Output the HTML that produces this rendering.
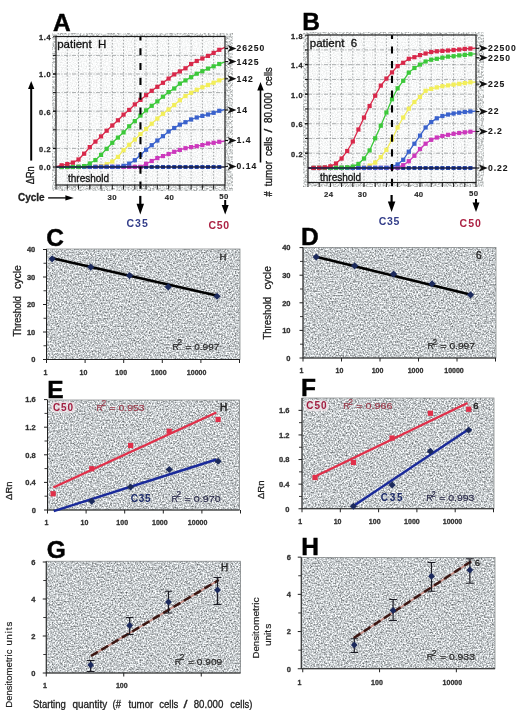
<!DOCTYPE html>
<html><head><meta charset="utf-8"><title>Figure</title>
<style>html,body{margin:0;padding:0;background:#fff;width:520px;height:712px;overflow:hidden;}
svg text{font-family:"Liberation Sans", sans-serif;}</style></head>
<body>
<svg width="520" height="712" viewBox="0 0 520 712" style="position:absolute;left:0;top:0">
<defs>
<filter id="stip" x="0" y="0" width="100%" height="100%" color-interpolation-filters="sRGB">
  <feTurbulence type="fractalNoise" baseFrequency="0.65" numOctaves="2" seed="7" result="n"/>
  <feColorMatrix in="n" type="matrix" values="1.1 0 0 0 0.228  1.1 0 0 0 0.245  1.1 0 0 0 0.255  0 0 0 0 1"/>
  <feGaussianBlur stdDeviation="0.4"/>
</filter>
<filter id="bstip" x="0" y="0" width="100%" height="100%" color-interpolation-filters="sRGB">
  <feTurbulence type="fractalNoise" baseFrequency="0.6" numOctaves="2" seed="11" result="n"/>
  <feColorMatrix in="n" type="matrix" values="0.9 0 0 0 0.41  0.9 0 0 0 0.42  0.9 0 0 0 0.42  0 0 0 0 1"/>
  <feGaussianBlur stdDeviation="0.4"/>
</filter>
<filter id="lstip" x="0" y="0" width="100%" height="100%" color-interpolation-filters="sRGB">
  <feTurbulence type="fractalNoise" baseFrequency="0.8" numOctaves="1" seed="3" result="n"/>
  <feColorMatrix in="n" type="matrix" values="0.28 0 0 0 0.83  0.28 0 0 0 0.835  0.28 0 0 0 0.835  0 0 0 0 1"/>
</filter>
</defs>
<rect width="520" height="712" fill="#fff"/>
<g font-family='"Liberation Sans", sans-serif' opacity="0.999">
<rect x="52" y="33" width="181" height="158" fill="#c6cacc" filter="url(#bstip)"/>
<rect x="56" y="36.5" width="169" height="148.5" fill="#f7f8f8" filter="url(#lstip)"/>
<line x1="67.26" y1="36.5" x2="67.26" y2="185" stroke="#8c9092" stroke-width="0.75" stroke-dasharray="1.6 1.6"/>
<line x1="78.52" y1="36.5" x2="78.52" y2="185" stroke="#8c9092" stroke-width="0.75" stroke-dasharray="1.6 1.6"/>
<line x1="89.78" y1="36.5" x2="89.78" y2="185" stroke="#8c9092" stroke-width="0.75" stroke-dasharray="1.6 1.6"/>
<line x1="101.04" y1="36.5" x2="101.04" y2="185" stroke="#8c9092" stroke-width="0.75" stroke-dasharray="1.6 1.6"/>
<line x1="112.30" y1="36.5" x2="112.30" y2="185" stroke="#8c9092" stroke-width="0.75" stroke-dasharray="1.6 1.6"/>
<line x1="123.56" y1="36.5" x2="123.56" y2="185" stroke="#8c9092" stroke-width="0.75" stroke-dasharray="1.6 1.6"/>
<line x1="134.82" y1="36.5" x2="134.82" y2="185" stroke="#8c9092" stroke-width="0.75" stroke-dasharray="1.6 1.6"/>
<line x1="146.08" y1="36.5" x2="146.08" y2="185" stroke="#8c9092" stroke-width="0.75" stroke-dasharray="1.6 1.6"/>
<line x1="157.34" y1="36.5" x2="157.34" y2="185" stroke="#8c9092" stroke-width="0.75" stroke-dasharray="1.6 1.6"/>
<line x1="168.60" y1="36.5" x2="168.60" y2="185" stroke="#8c9092" stroke-width="0.75" stroke-dasharray="1.6 1.6"/>
<line x1="179.86" y1="36.5" x2="179.86" y2="185" stroke="#8c9092" stroke-width="0.75" stroke-dasharray="1.6 1.6"/>
<line x1="191.12" y1="36.5" x2="191.12" y2="185" stroke="#8c9092" stroke-width="0.75" stroke-dasharray="1.6 1.6"/>
<line x1="202.38" y1="36.5" x2="202.38" y2="185" stroke="#8c9092" stroke-width="0.75" stroke-dasharray="1.6 1.6"/>
<line x1="213.64" y1="36.5" x2="213.64" y2="185" stroke="#8c9092" stroke-width="0.75" stroke-dasharray="1.6 1.6"/>
<line x1="56" y1="148.40" x2="225" y2="148.40" stroke="#909496" stroke-width="0.75" stroke-dasharray="4 1.5 1 1.5"/>
<line x1="53" y1="148.40" x2="56" y2="148.40" stroke="#111" stroke-width="1"/>
<line x1="56" y1="129.80" x2="225" y2="129.80" stroke="#909496" stroke-width="0.75" stroke-dasharray="4 1.5 1 1.5"/>
<line x1="53" y1="129.80" x2="56" y2="129.80" stroke="#111" stroke-width="1"/>
<line x1="56" y1="111.20" x2="225" y2="111.20" stroke="#909496" stroke-width="0.75" stroke-dasharray="4 1.5 1 1.5"/>
<line x1="53" y1="111.20" x2="56" y2="111.20" stroke="#111" stroke-width="1"/>
<line x1="56" y1="92.60" x2="225" y2="92.60" stroke="#909496" stroke-width="0.75" stroke-dasharray="4 1.5 1 1.5"/>
<line x1="53" y1="92.60" x2="56" y2="92.60" stroke="#111" stroke-width="1"/>
<line x1="56" y1="74.00" x2="225" y2="74.00" stroke="#909496" stroke-width="0.75" stroke-dasharray="4 1.5 1 1.5"/>
<line x1="53" y1="74.00" x2="56" y2="74.00" stroke="#111" stroke-width="1"/>
<line x1="56" y1="55.40" x2="225" y2="55.40" stroke="#909496" stroke-width="0.75" stroke-dasharray="4 1.5 1 1.5"/>
<line x1="53" y1="55.40" x2="56" y2="55.40" stroke="#111" stroke-width="1"/>
<rect x="59.63" y="165.00" width="4" height="4" fill="#2a48a8"/>
<rect x="65.26" y="165.00" width="4" height="4" fill="#2a48a8"/>
<rect x="70.89" y="165.00" width="4" height="4" fill="#2a48a8"/>
<rect x="76.52" y="165.00" width="4" height="4" fill="#2a48a8"/>
<rect x="82.15" y="165.00" width="4" height="4" fill="#2a48a8"/>
<rect x="87.78" y="165.00" width="4" height="4" fill="#2a48a8"/>
<rect x="93.41" y="165.00" width="4" height="4" fill="#2a48a8"/>
<rect x="99.04" y="165.00" width="4" height="4" fill="#2a48a8"/>
<rect x="104.67" y="165.00" width="4" height="4" fill="#2a48a8"/>
<rect x="110.30" y="165.00" width="4" height="4" fill="#2a48a8"/>
<rect x="115.93" y="165.00" width="4" height="4" fill="#2a48a8"/>
<rect x="121.56" y="165.00" width="4" height="4" fill="#2a48a8"/>
<rect x="127.19" y="165.00" width="4" height="4" fill="#2a48a8"/>
<rect x="132.82" y="165.00" width="4" height="4" fill="#2a48a8"/>
<rect x="138.45" y="165.00" width="4" height="4" fill="#2a48a8"/>
<rect x="144.08" y="165.00" width="4" height="4" fill="#2a48a8"/>
<rect x="149.71" y="165.00" width="4" height="4" fill="#2a48a8"/>
<rect x="155.34" y="165.00" width="4" height="4" fill="#2a48a8"/>
<rect x="160.97" y="165.00" width="4" height="4" fill="#2a48a8"/>
<rect x="166.60" y="165.00" width="4" height="4" fill="#2a48a8"/>
<rect x="172.23" y="165.00" width="4" height="4" fill="#2a48a8"/>
<rect x="177.86" y="165.00" width="4" height="4" fill="#2a48a8"/>
<rect x="183.49" y="165.00" width="4" height="4" fill="#2a48a8"/>
<rect x="189.12" y="165.00" width="4" height="4" fill="#2a48a8"/>
<rect x="194.75" y="165.00" width="4" height="4" fill="#2a48a8"/>
<rect x="200.38" y="165.00" width="4" height="4" fill="#2a48a8"/>
<rect x="206.01" y="165.00" width="4" height="4" fill="#2a48a8"/>
<rect x="211.64" y="165.00" width="4" height="4" fill="#2a48a8"/>
<rect x="217.27" y="165.00" width="4" height="4" fill="#2a48a8"/>
<polyline points="56.00,167.00 61.63,166.97 67.26,166.94 72.89,166.91 78.52,166.89 84.15,166.86 89.78,166.83 95.41,166.80 101.04,166.00 106.67,164.20 112.30,161.50 117.93,156.90 123.56,150.20 129.19,144.80 134.82,139.60 140.45,134.10 146.08,129.00 151.71,123.70 157.34,118.60 162.97,113.80 168.60,109.50 174.23,105.00 179.86,100.20 185.49,96.00 191.12,92.80 196.75,89.80 202.38,87.30 208.01,85.00 213.64,82.70 219.27,80.40 224.90,78.30" fill="none" stroke="#f2ee5a" stroke-width="1.3"/>
<rect x="59.53" y="164.87" width="4.2" height="4.2" fill="#f2ee5a"/>
<rect x="65.16" y="164.84" width="4.2" height="4.2" fill="#f2ee5a"/>
<rect x="70.79" y="164.81" width="4.2" height="4.2" fill="#f2ee5a"/>
<rect x="76.42" y="164.79" width="4.2" height="4.2" fill="#f2ee5a"/>
<rect x="82.05" y="164.76" width="4.2" height="4.2" fill="#f2ee5a"/>
<rect x="87.68" y="164.73" width="4.2" height="4.2" fill="#f2ee5a"/>
<rect x="93.31" y="164.70" width="4.2" height="4.2" fill="#f2ee5a"/>
<rect x="98.94" y="163.90" width="4.2" height="4.2" fill="#f2ee5a"/>
<rect x="104.57" y="162.10" width="4.2" height="4.2" fill="#f2ee5a"/>
<rect x="110.20" y="159.40" width="4.2" height="4.2" fill="#f2ee5a"/>
<rect x="115.83" y="154.80" width="4.2" height="4.2" fill="#f2ee5a"/>
<rect x="121.46" y="148.10" width="4.2" height="4.2" fill="#f2ee5a"/>
<rect x="127.09" y="142.70" width="4.2" height="4.2" fill="#f2ee5a"/>
<rect x="132.72" y="137.50" width="4.2" height="4.2" fill="#f2ee5a"/>
<rect x="138.35" y="132.00" width="4.2" height="4.2" fill="#f2ee5a"/>
<rect x="143.98" y="126.90" width="4.2" height="4.2" fill="#f2ee5a"/>
<rect x="149.61" y="121.60" width="4.2" height="4.2" fill="#f2ee5a"/>
<rect x="155.24" y="116.50" width="4.2" height="4.2" fill="#f2ee5a"/>
<rect x="160.87" y="111.70" width="4.2" height="4.2" fill="#f2ee5a"/>
<rect x="166.50" y="107.40" width="4.2" height="4.2" fill="#f2ee5a"/>
<rect x="172.13" y="102.90" width="4.2" height="4.2" fill="#f2ee5a"/>
<rect x="177.76" y="98.10" width="4.2" height="4.2" fill="#f2ee5a"/>
<rect x="183.39" y="93.90" width="4.2" height="4.2" fill="#f2ee5a"/>
<rect x="189.02" y="90.70" width="4.2" height="4.2" fill="#f2ee5a"/>
<rect x="194.65" y="87.70" width="4.2" height="4.2" fill="#f2ee5a"/>
<rect x="200.28" y="85.20" width="4.2" height="4.2" fill="#f2ee5a"/>
<rect x="205.91" y="82.90" width="4.2" height="4.2" fill="#f2ee5a"/>
<rect x="211.54" y="80.60" width="4.2" height="4.2" fill="#f2ee5a"/>
<rect x="217.17" y="78.30" width="4.2" height="4.2" fill="#f2ee5a"/>
<polyline points="56.00,167.00 61.63,166.99 67.26,166.97 72.89,166.96 78.52,166.95 84.15,166.93 89.78,166.92 95.41,166.91 101.04,166.89 106.67,166.88 112.30,166.87 117.93,166.85 123.56,166.84 129.19,166.83 134.82,166.81 140.45,166.80 146.08,163.80 151.71,161.00 157.34,158.10 162.97,156.10 168.60,154.00 174.23,151.80 179.86,149.90 185.49,148.20 191.12,147.10 196.75,146.20 202.38,145.10 208.01,143.50 213.64,142.80 219.27,141.80 224.90,141.00" fill="none" stroke="#cc38bc" stroke-width="1.3"/>
<rect x="59.53" y="164.89" width="4.2" height="4.2" fill="#cc38bc"/>
<rect x="65.16" y="164.87" width="4.2" height="4.2" fill="#cc38bc"/>
<rect x="70.79" y="164.86" width="4.2" height="4.2" fill="#cc38bc"/>
<rect x="76.42" y="164.85" width="4.2" height="4.2" fill="#cc38bc"/>
<rect x="82.05" y="164.83" width="4.2" height="4.2" fill="#cc38bc"/>
<rect x="87.68" y="164.82" width="4.2" height="4.2" fill="#cc38bc"/>
<rect x="93.31" y="164.81" width="4.2" height="4.2" fill="#cc38bc"/>
<rect x="98.94" y="164.79" width="4.2" height="4.2" fill="#cc38bc"/>
<rect x="104.57" y="164.78" width="4.2" height="4.2" fill="#cc38bc"/>
<rect x="110.20" y="164.77" width="4.2" height="4.2" fill="#cc38bc"/>
<rect x="115.83" y="164.75" width="4.2" height="4.2" fill="#cc38bc"/>
<rect x="121.46" y="164.74" width="4.2" height="4.2" fill="#cc38bc"/>
<rect x="127.09" y="164.73" width="4.2" height="4.2" fill="#cc38bc"/>
<rect x="132.72" y="164.71" width="4.2" height="4.2" fill="#cc38bc"/>
<rect x="138.35" y="164.70" width="4.2" height="4.2" fill="#cc38bc"/>
<rect x="143.98" y="161.70" width="4.2" height="4.2" fill="#cc38bc"/>
<rect x="149.61" y="158.90" width="4.2" height="4.2" fill="#cc38bc"/>
<rect x="155.24" y="156.00" width="4.2" height="4.2" fill="#cc38bc"/>
<rect x="160.87" y="154.00" width="4.2" height="4.2" fill="#cc38bc"/>
<rect x="166.50" y="151.90" width="4.2" height="4.2" fill="#cc38bc"/>
<rect x="172.13" y="149.70" width="4.2" height="4.2" fill="#cc38bc"/>
<rect x="177.76" y="147.80" width="4.2" height="4.2" fill="#cc38bc"/>
<rect x="183.39" y="146.10" width="4.2" height="4.2" fill="#cc38bc"/>
<rect x="189.02" y="145.00" width="4.2" height="4.2" fill="#cc38bc"/>
<rect x="194.65" y="144.10" width="4.2" height="4.2" fill="#cc38bc"/>
<rect x="200.28" y="143.00" width="4.2" height="4.2" fill="#cc38bc"/>
<rect x="205.91" y="141.40" width="4.2" height="4.2" fill="#cc38bc"/>
<rect x="211.54" y="140.70" width="4.2" height="4.2" fill="#cc38bc"/>
<rect x="217.17" y="139.70" width="4.2" height="4.2" fill="#cc38bc"/>
<polyline points="56.00,167.00 61.63,166.98 67.26,166.96 72.89,166.95 78.52,166.93 84.15,166.91 89.78,166.89 95.41,166.87 101.04,166.85 106.67,166.84 112.30,166.82 117.93,166.80 123.56,165.80 129.19,163.60 134.82,160.20 140.45,155.00 146.08,149.80 151.71,145.20 157.34,140.50 162.97,136.20 168.60,131.50 174.23,128.00 179.86,124.60 185.49,122.20 191.12,119.50 196.75,117.50 202.38,115.90 208.01,114.50 213.64,112.80 219.27,110.80 224.90,109.50" fill="none" stroke="#3a62cc" stroke-width="1.3"/>
<rect x="59.53" y="164.88" width="4.2" height="4.2" fill="#3a62cc"/>
<rect x="65.16" y="164.86" width="4.2" height="4.2" fill="#3a62cc"/>
<rect x="70.79" y="164.85" width="4.2" height="4.2" fill="#3a62cc"/>
<rect x="76.42" y="164.83" width="4.2" height="4.2" fill="#3a62cc"/>
<rect x="82.05" y="164.81" width="4.2" height="4.2" fill="#3a62cc"/>
<rect x="87.68" y="164.79" width="4.2" height="4.2" fill="#3a62cc"/>
<rect x="93.31" y="164.77" width="4.2" height="4.2" fill="#3a62cc"/>
<rect x="98.94" y="164.75" width="4.2" height="4.2" fill="#3a62cc"/>
<rect x="104.57" y="164.74" width="4.2" height="4.2" fill="#3a62cc"/>
<rect x="110.20" y="164.72" width="4.2" height="4.2" fill="#3a62cc"/>
<rect x="115.83" y="164.70" width="4.2" height="4.2" fill="#3a62cc"/>
<rect x="121.46" y="163.70" width="4.2" height="4.2" fill="#3a62cc"/>
<rect x="127.09" y="161.50" width="4.2" height="4.2" fill="#3a62cc"/>
<rect x="132.72" y="158.10" width="4.2" height="4.2" fill="#3a62cc"/>
<rect x="138.35" y="152.90" width="4.2" height="4.2" fill="#3a62cc"/>
<rect x="143.98" y="147.70" width="4.2" height="4.2" fill="#3a62cc"/>
<rect x="149.61" y="143.10" width="4.2" height="4.2" fill="#3a62cc"/>
<rect x="155.24" y="138.40" width="4.2" height="4.2" fill="#3a62cc"/>
<rect x="160.87" y="134.10" width="4.2" height="4.2" fill="#3a62cc"/>
<rect x="166.50" y="129.40" width="4.2" height="4.2" fill="#3a62cc"/>
<rect x="172.13" y="125.90" width="4.2" height="4.2" fill="#3a62cc"/>
<rect x="177.76" y="122.50" width="4.2" height="4.2" fill="#3a62cc"/>
<rect x="183.39" y="120.10" width="4.2" height="4.2" fill="#3a62cc"/>
<rect x="189.02" y="117.40" width="4.2" height="4.2" fill="#3a62cc"/>
<rect x="194.65" y="115.40" width="4.2" height="4.2" fill="#3a62cc"/>
<rect x="200.28" y="113.80" width="4.2" height="4.2" fill="#3a62cc"/>
<rect x="205.91" y="112.40" width="4.2" height="4.2" fill="#3a62cc"/>
<rect x="211.54" y="110.70" width="4.2" height="4.2" fill="#3a62cc"/>
<rect x="217.17" y="108.70" width="4.2" height="4.2" fill="#3a62cc"/>
<polyline points="56.00,167.00 61.63,166.95 67.26,166.90 72.89,166.85 78.52,166.80 84.15,166.10 89.78,163.50 95.41,160.10 101.04,154.90 106.67,148.80 112.30,142.80 117.93,137.60 123.56,132.40 129.19,126.30 134.82,121.10 140.45,115.60 146.08,110.40 151.71,105.80 157.34,101.40 162.97,96.70 168.60,92.10 174.23,88.50 179.86,83.60 185.49,80.40 191.12,77.20 196.75,73.70 202.38,71.20 208.01,68.60 213.64,66.30 219.27,64.00 224.90,61.80" fill="none" stroke="#3cc83a" stroke-width="1.3"/>
<rect x="59.53" y="164.85" width="4.2" height="4.2" fill="#3cc83a"/>
<rect x="65.16" y="164.80" width="4.2" height="4.2" fill="#3cc83a"/>
<rect x="70.79" y="164.75" width="4.2" height="4.2" fill="#3cc83a"/>
<rect x="76.42" y="164.70" width="4.2" height="4.2" fill="#3cc83a"/>
<rect x="82.05" y="164.00" width="4.2" height="4.2" fill="#3cc83a"/>
<rect x="87.68" y="161.40" width="4.2" height="4.2" fill="#3cc83a"/>
<rect x="93.31" y="158.00" width="4.2" height="4.2" fill="#3cc83a"/>
<rect x="98.94" y="152.80" width="4.2" height="4.2" fill="#3cc83a"/>
<rect x="104.57" y="146.70" width="4.2" height="4.2" fill="#3cc83a"/>
<rect x="110.20" y="140.70" width="4.2" height="4.2" fill="#3cc83a"/>
<rect x="115.83" y="135.50" width="4.2" height="4.2" fill="#3cc83a"/>
<rect x="121.46" y="130.30" width="4.2" height="4.2" fill="#3cc83a"/>
<rect x="127.09" y="124.20" width="4.2" height="4.2" fill="#3cc83a"/>
<rect x="132.72" y="119.00" width="4.2" height="4.2" fill="#3cc83a"/>
<rect x="138.35" y="113.50" width="4.2" height="4.2" fill="#3cc83a"/>
<rect x="143.98" y="108.30" width="4.2" height="4.2" fill="#3cc83a"/>
<rect x="149.61" y="103.70" width="4.2" height="4.2" fill="#3cc83a"/>
<rect x="155.24" y="99.30" width="4.2" height="4.2" fill="#3cc83a"/>
<rect x="160.87" y="94.60" width="4.2" height="4.2" fill="#3cc83a"/>
<rect x="166.50" y="90.00" width="4.2" height="4.2" fill="#3cc83a"/>
<rect x="172.13" y="86.40" width="4.2" height="4.2" fill="#3cc83a"/>
<rect x="177.76" y="81.50" width="4.2" height="4.2" fill="#3cc83a"/>
<rect x="183.39" y="78.30" width="4.2" height="4.2" fill="#3cc83a"/>
<rect x="189.02" y="75.10" width="4.2" height="4.2" fill="#3cc83a"/>
<rect x="194.65" y="71.60" width="4.2" height="4.2" fill="#3cc83a"/>
<rect x="200.28" y="69.10" width="4.2" height="4.2" fill="#3cc83a"/>
<rect x="205.91" y="66.50" width="4.2" height="4.2" fill="#3cc83a"/>
<rect x="211.54" y="64.20" width="4.2" height="4.2" fill="#3cc83a"/>
<rect x="217.17" y="61.90" width="4.2" height="4.2" fill="#3cc83a"/>
<polyline points="56.00,166.60 61.63,165.30 67.26,164.10 72.89,162.60 78.52,159.50 84.15,153.70 89.78,147.10 95.41,141.60 101.04,136.40 106.67,130.70 112.30,125.50 117.93,120.30 123.56,114.60 129.19,109.90 134.82,104.40 140.45,99.90 146.08,95.20 151.71,90.80 157.34,86.80 162.97,82.80 168.60,78.60 174.23,74.40 179.86,71.40 185.49,68.30 191.12,64.00 196.75,61.00 202.38,58.50 208.01,55.90 213.64,52.90 219.27,49.80 224.90,47.30" fill="none" stroke="#d8284a" stroke-width="1.3"/>
<rect x="59.53" y="163.20" width="4.2" height="4.2" fill="#d8284a"/>
<rect x="65.16" y="162.00" width="4.2" height="4.2" fill="#d8284a"/>
<rect x="70.79" y="160.50" width="4.2" height="4.2" fill="#d8284a"/>
<rect x="76.42" y="157.40" width="4.2" height="4.2" fill="#d8284a"/>
<rect x="82.05" y="151.60" width="4.2" height="4.2" fill="#d8284a"/>
<rect x="87.68" y="145.00" width="4.2" height="4.2" fill="#d8284a"/>
<rect x="93.31" y="139.50" width="4.2" height="4.2" fill="#d8284a"/>
<rect x="98.94" y="134.30" width="4.2" height="4.2" fill="#d8284a"/>
<rect x="104.57" y="128.60" width="4.2" height="4.2" fill="#d8284a"/>
<rect x="110.20" y="123.40" width="4.2" height="4.2" fill="#d8284a"/>
<rect x="115.83" y="118.20" width="4.2" height="4.2" fill="#d8284a"/>
<rect x="121.46" y="112.50" width="4.2" height="4.2" fill="#d8284a"/>
<rect x="127.09" y="107.80" width="4.2" height="4.2" fill="#d8284a"/>
<rect x="132.72" y="102.30" width="4.2" height="4.2" fill="#d8284a"/>
<rect x="138.35" y="97.80" width="4.2" height="4.2" fill="#d8284a"/>
<rect x="143.98" y="93.10" width="4.2" height="4.2" fill="#d8284a"/>
<rect x="149.61" y="88.70" width="4.2" height="4.2" fill="#d8284a"/>
<rect x="155.24" y="84.70" width="4.2" height="4.2" fill="#d8284a"/>
<rect x="160.87" y="80.70" width="4.2" height="4.2" fill="#d8284a"/>
<rect x="166.50" y="76.50" width="4.2" height="4.2" fill="#d8284a"/>
<rect x="172.13" y="72.30" width="4.2" height="4.2" fill="#d8284a"/>
<rect x="177.76" y="69.30" width="4.2" height="4.2" fill="#d8284a"/>
<rect x="183.39" y="66.20" width="4.2" height="4.2" fill="#d8284a"/>
<rect x="189.02" y="61.90" width="4.2" height="4.2" fill="#d8284a"/>
<rect x="194.65" y="58.90" width="4.2" height="4.2" fill="#d8284a"/>
<rect x="200.28" y="56.40" width="4.2" height="4.2" fill="#d8284a"/>
<rect x="205.91" y="53.80" width="4.2" height="4.2" fill="#d8284a"/>
<rect x="211.54" y="50.80" width="4.2" height="4.2" fill="#d8284a"/>
<rect x="217.17" y="47.70" width="4.2" height="4.2" fill="#d8284a"/>
<line x1="56" y1="167" x2="225" y2="167" stroke="#141a40" stroke-width="1.7"/>
<line x1="140.45" y1="36.5" x2="140.45" y2="192" stroke="#000" stroke-width="2.1" stroke-dasharray="7.1 7.73" stroke-dashoffset="3.2"/>
<rect x="56" y="36.5" width="169" height="148.5" fill="none" stroke="#1e1e1e" stroke-width="1.2"/>
<line x1="56.00" y1="185" x2="56.00" y2="189.5" stroke="#1a1a1a" stroke-width="1"/>
<line x1="67.26" y1="185" x2="67.26" y2="189.5" stroke="#1a1a1a" stroke-width="1"/>
<line x1="78.52" y1="185" x2="78.52" y2="189.5" stroke="#1a1a1a" stroke-width="1"/>
<line x1="89.78" y1="185" x2="89.78" y2="189.5" stroke="#1a1a1a" stroke-width="1"/>
<line x1="101.04" y1="185" x2="101.04" y2="189.5" stroke="#1a1a1a" stroke-width="1"/>
<line x1="112.30" y1="185" x2="112.30" y2="189.5" stroke="#1a1a1a" stroke-width="1"/>
<line x1="123.56" y1="185" x2="123.56" y2="189.5" stroke="#1a1a1a" stroke-width="1"/>
<line x1="134.82" y1="185" x2="134.82" y2="189.5" stroke="#1a1a1a" stroke-width="1"/>
<line x1="146.08" y1="185" x2="146.08" y2="189.5" stroke="#1a1a1a" stroke-width="1"/>
<line x1="157.34" y1="185" x2="157.34" y2="189.5" stroke="#1a1a1a" stroke-width="1"/>
<line x1="168.60" y1="185" x2="168.60" y2="189.5" stroke="#1a1a1a" stroke-width="1"/>
<line x1="179.86" y1="185" x2="179.86" y2="189.5" stroke="#1a1a1a" stroke-width="1"/>
<line x1="191.12" y1="185" x2="191.12" y2="189.5" stroke="#1a1a1a" stroke-width="1"/>
<line x1="202.38" y1="185" x2="202.38" y2="189.5" stroke="#1a1a1a" stroke-width="1"/>
<line x1="213.64" y1="185" x2="213.64" y2="189.5" stroke="#1a1a1a" stroke-width="1"/>
<line x1="224.90" y1="185" x2="224.90" y2="189.5" stroke="#1a1a1a" stroke-width="1"/>
<line x1="53" y1="36.80" x2="56" y2="36.80" stroke="#111" stroke-width="1"/>
<text x="51.40" y="40.20" font-size="7.4" font-weight="bold" text-anchor="end" fill="#2a2a2a" stroke="#2a2a2a" stroke-width="0.3" letter-spacing="0.7">1.4</text>
<line x1="53" y1="74.00" x2="56" y2="74.00" stroke="#111" stroke-width="1"/>
<text x="51.40" y="77.40" font-size="7.4" font-weight="bold" text-anchor="end" fill="#2a2a2a" stroke="#2a2a2a" stroke-width="0.3" letter-spacing="0.7">1.0</text>
<line x1="53" y1="111.20" x2="56" y2="111.20" stroke="#111" stroke-width="1"/>
<text x="51.40" y="114.60" font-size="7.4" font-weight="bold" text-anchor="end" fill="#2a2a2a" stroke="#2a2a2a" stroke-width="0.3" letter-spacing="0.7">0.6</text>
<line x1="53" y1="148.40" x2="56" y2="148.40" stroke="#111" stroke-width="1"/>
<text x="51.40" y="151.80" font-size="7.4" font-weight="bold" text-anchor="end" fill="#2a2a2a" stroke="#2a2a2a" stroke-width="0.3" letter-spacing="0.7">0.2</text>
<line x1="53" y1="167.00" x2="56" y2="167.00" stroke="#111" stroke-width="1"/>
<text x="51.40" y="170.40" font-size="7.4" font-weight="bold" text-anchor="end" fill="#2a2a2a" stroke="#2a2a2a" stroke-width="0.3" letter-spacing="0.7">0.0</text>
<text x="112.30" y="199.50" font-size="7.8" font-weight="bold" text-anchor="middle" fill="#2a2a2a" stroke="#2a2a2a" stroke-width="0.15" letter-spacing="0.4">30</text>
<text x="169.50" y="199.50" font-size="7.8" font-weight="bold" text-anchor="middle" fill="#2a2a2a" stroke="#2a2a2a" stroke-width="0.15" letter-spacing="0.4">40</text>
<text x="223.89" y="199.00" font-size="7.8" font-weight="bold" text-anchor="middle" fill="#2a2a2a" stroke="#2a2a2a" stroke-width="0.15" letter-spacing="0.4">50</text>
<text x="57.20" y="48.00" font-size="11.5" font-weight="normal" text-anchor="start" fill="#111" stroke="#111" stroke-width="0.3" >patient&#160;&#160;H</text>
<text x="68.00" y="182.00" font-size="10" font-weight="normal" text-anchor="start" fill="#111" stroke="#111" stroke-width="0.3" >threshold</text>
<text x="53.00" y="30.80" font-size="24.5" font-weight="bold" fill="#000" stroke="#000" stroke-width="0.45">A</text>
<line x1="225.00" y1="48.50" x2="228.00" y2="48.50" stroke="#111" stroke-width="1.1"/>
<path d="M236.50,48.50 L227.50,52.00 L230.00,48.50 L227.50,45.00 z" fill="#111"/>
<text x="236.60" y="51.40" font-size="8.6" font-weight="bold" text-anchor="start" fill="#1a1a1a" stroke="#1a1a1a" stroke-width="0.1" letter-spacing="0.95">26250</text>
<line x1="225.00" y1="61.60" x2="228.00" y2="61.60" stroke="#111" stroke-width="1.1"/>
<path d="M236.50,61.60 L227.50,65.10 L230.00,61.60 L227.50,58.10 z" fill="#111"/>
<text x="236.60" y="64.50" font-size="8.6" font-weight="bold" text-anchor="start" fill="#1a1a1a" stroke="#1a1a1a" stroke-width="0.1" letter-spacing="0.95">1425</text>
<line x1="225.00" y1="78.80" x2="228.00" y2="78.80" stroke="#111" stroke-width="1.1"/>
<path d="M236.50,78.80 L227.50,82.30 L230.00,78.80 L227.50,75.30 z" fill="#111"/>
<text x="236.60" y="81.70" font-size="8.6" font-weight="bold" text-anchor="start" fill="#1a1a1a" stroke="#1a1a1a" stroke-width="0.1" letter-spacing="0.95">142</text>
<line x1="225.00" y1="110.00" x2="228.00" y2="110.00" stroke="#111" stroke-width="1.1"/>
<path d="M236.50,110.00 L227.50,113.50 L230.00,110.00 L227.50,106.50 z" fill="#111"/>
<text x="236.60" y="112.90" font-size="8.6" font-weight="bold" text-anchor="start" fill="#1a1a1a" stroke="#1a1a1a" stroke-width="0.1" letter-spacing="0.95">14</text>
<line x1="225.00" y1="140.50" x2="228.00" y2="140.50" stroke="#111" stroke-width="1.1"/>
<path d="M236.50,140.50 L227.50,144.00 L230.00,140.50 L227.50,137.00 z" fill="#111"/>
<text x="236.60" y="143.40" font-size="8.6" font-weight="bold" text-anchor="start" fill="#1a1a1a" stroke="#1a1a1a" stroke-width="0.1" letter-spacing="0.95">1.4</text>
<line x1="225.00" y1="166.40" x2="228.00" y2="166.40" stroke="#111" stroke-width="1.1"/>
<path d="M236.50,166.40 L227.50,169.90 L230.00,166.40 L227.50,162.90 z" fill="#111"/>
<text x="236.60" y="169.30" font-size="8.6" font-weight="bold" text-anchor="start" fill="#1a1a1a" stroke="#1a1a1a" stroke-width="0.1" letter-spacing="0.95">0.14</text>
<line x1="260.50" y1="162.50" x2="260.50" y2="89.90" stroke="#000" stroke-width="1.6"/>
<path d="M260.50,82.00 L263.75,90.40 L260.50,90.40 L257.25,90.40 z" fill="#000"/>
<text transform="translate(272.20,196.40) rotate(-90)" x="0" y="0" font-size="10" font-weight="normal" fill="#111" stroke="#111" stroke-width="0.3" textLength="5.10" lengthAdjust="spacingAndGlyphs">#</text>
<text transform="translate(272.20,186.30) rotate(-90)" x="0" y="0" font-size="10" font-weight="normal" fill="#111" stroke="#111" stroke-width="0.3" textLength="25.30" lengthAdjust="spacingAndGlyphs">tumor</text>
<text transform="translate(272.20,156.10) rotate(-90)" x="0" y="0" font-size="10" font-weight="normal" fill="#111" stroke="#111" stroke-width="0.3" textLength="19.30" lengthAdjust="spacingAndGlyphs">cells</text>
<text transform="translate(272.20,132.40) rotate(-90)" x="0" y="0" font-size="10" font-weight="normal" fill="#111" stroke="#111" stroke-width="0.3" textLength="3.80" lengthAdjust="spacingAndGlyphs">/</text>
<text transform="translate(272.20,122.90) rotate(-90)" x="0" y="0" font-size="10" font-weight="normal" fill="#111" stroke="#111" stroke-width="0.3" textLength="30.30" lengthAdjust="spacingAndGlyphs">80.000</text>
<text transform="translate(272.20,85.80) rotate(-90)" x="0" y="0" font-size="10" font-weight="normal" fill="#111" stroke="#111" stroke-width="0.3" textLength="18.40" lengthAdjust="spacingAndGlyphs">cells</text>
<line x1="31.20" y1="160.60" x2="31.20" y2="88.50" stroke="#000" stroke-width="2"/>
<path d="M31.20,81.00 L34.35,89.00 L31.20,89.00 L28.05,89.00 z" fill="#000"/>
<text transform="translate(34.20,184.20) rotate(-90)" x="0" y="0" font-size="10" font-weight="normal" fill="#111" stroke="#111" stroke-width="0.3" textLength="17.90" lengthAdjust="spacingAndGlyphs">&#916;Rn</text>
<text x="18.00" y="200.70" font-size="10" font-weight="bold" text-anchor="start" fill="#222" stroke="#222" stroke-width="0.3" >Cycle</text>
<line x1="48.10" y1="197.90" x2="65.90" y2="197.90" stroke="#000" stroke-width="1.3"/>
<path d="M73.80,197.90 L65.40,200.60 L65.40,197.90 L65.40,195.20 z" fill="#000"/>
<line x1="140.30" y1="195.90" x2="140.30" y2="204.30" stroke="#000" stroke-width="2.2"/>
<path d="M140.30,214.60 L136.55,203.80 L140.30,203.80 L144.05,203.80 z" fill="#000"/>
<line x1="225.20" y1="200.00" x2="225.20" y2="205.60" stroke="#000" stroke-width="2"/>
<path d="M225.20,214.60 L221.70,205.10 L225.20,205.10 L228.70,205.10 z" fill="#000"/>
<text x="126.40" y="227.30" font-size="10.5" font-weight="bold" fill="#343e8a" stroke="#343e8a" stroke-width="0" textLength="21.40" lengthAdjust="spacing">C35</text>
<text x="208.40" y="228.90" font-size="10.5" font-weight="bold" fill="#ac2244" stroke="#ac2244" stroke-width="0" textLength="20.60" lengthAdjust="spacing">C50</text>
<rect x="303.5" y="32" width="180.5" height="155" fill="#c6cacc" filter="url(#bstip)"/>
<rect x="308" y="35" width="168" height="147.5" fill="#f7f8f8" filter="url(#lstip)"/>
<line x1="319.20" y1="35" x2="319.20" y2="182.5" stroke="#8c9092" stroke-width="0.75" stroke-dasharray="1.6 1.6"/>
<line x1="330.40" y1="35" x2="330.40" y2="182.5" stroke="#8c9092" stroke-width="0.75" stroke-dasharray="1.6 1.6"/>
<line x1="341.60" y1="35" x2="341.60" y2="182.5" stroke="#8c9092" stroke-width="0.75" stroke-dasharray="1.6 1.6"/>
<line x1="352.80" y1="35" x2="352.80" y2="182.5" stroke="#8c9092" stroke-width="0.75" stroke-dasharray="1.6 1.6"/>
<line x1="364.00" y1="35" x2="364.00" y2="182.5" stroke="#8c9092" stroke-width="0.75" stroke-dasharray="1.6 1.6"/>
<line x1="375.20" y1="35" x2="375.20" y2="182.5" stroke="#8c9092" stroke-width="0.75" stroke-dasharray="1.6 1.6"/>
<line x1="386.40" y1="35" x2="386.40" y2="182.5" stroke="#8c9092" stroke-width="0.75" stroke-dasharray="1.6 1.6"/>
<line x1="397.60" y1="35" x2="397.60" y2="182.5" stroke="#8c9092" stroke-width="0.75" stroke-dasharray="1.6 1.6"/>
<line x1="408.80" y1="35" x2="408.80" y2="182.5" stroke="#8c9092" stroke-width="0.75" stroke-dasharray="1.6 1.6"/>
<line x1="420.00" y1="35" x2="420.00" y2="182.5" stroke="#8c9092" stroke-width="0.75" stroke-dasharray="1.6 1.6"/>
<line x1="431.20" y1="35" x2="431.20" y2="182.5" stroke="#8c9092" stroke-width="0.75" stroke-dasharray="1.6 1.6"/>
<line x1="442.40" y1="35" x2="442.40" y2="182.5" stroke="#8c9092" stroke-width="0.75" stroke-dasharray="1.6 1.6"/>
<line x1="453.60" y1="35" x2="453.60" y2="182.5" stroke="#8c9092" stroke-width="0.75" stroke-dasharray="1.6 1.6"/>
<line x1="464.80" y1="35" x2="464.80" y2="182.5" stroke="#8c9092" stroke-width="0.75" stroke-dasharray="1.6 1.6"/>
<line x1="308" y1="153.24" x2="476" y2="153.24" stroke="#909496" stroke-width="0.75" stroke-dasharray="4 1.5 1 1.5"/>
<line x1="305" y1="153.24" x2="308" y2="153.24" stroke="#111" stroke-width="1"/>
<line x1="308" y1="138.48" x2="476" y2="138.48" stroke="#909496" stroke-width="0.75" stroke-dasharray="4 1.5 1 1.5"/>
<line x1="305" y1="138.48" x2="308" y2="138.48" stroke="#111" stroke-width="1"/>
<line x1="308" y1="123.72" x2="476" y2="123.72" stroke="#909496" stroke-width="0.75" stroke-dasharray="4 1.5 1 1.5"/>
<line x1="305" y1="123.72" x2="308" y2="123.72" stroke="#111" stroke-width="1"/>
<line x1="308" y1="108.96" x2="476" y2="108.96" stroke="#909496" stroke-width="0.75" stroke-dasharray="4 1.5 1 1.5"/>
<line x1="305" y1="108.96" x2="308" y2="108.96" stroke="#111" stroke-width="1"/>
<line x1="308" y1="94.20" x2="476" y2="94.20" stroke="#909496" stroke-width="0.75" stroke-dasharray="4 1.5 1 1.5"/>
<line x1="305" y1="94.20" x2="308" y2="94.20" stroke="#111" stroke-width="1"/>
<line x1="308" y1="79.44" x2="476" y2="79.44" stroke="#909496" stroke-width="0.75" stroke-dasharray="4 1.5 1 1.5"/>
<line x1="305" y1="79.44" x2="308" y2="79.44" stroke="#111" stroke-width="1"/>
<line x1="308" y1="64.68" x2="476" y2="64.68" stroke="#909496" stroke-width="0.75" stroke-dasharray="4 1.5 1 1.5"/>
<line x1="305" y1="64.68" x2="308" y2="64.68" stroke="#111" stroke-width="1"/>
<line x1="308" y1="49.92" x2="476" y2="49.92" stroke="#909496" stroke-width="0.75" stroke-dasharray="4 1.5 1 1.5"/>
<line x1="305" y1="49.92" x2="308" y2="49.92" stroke="#111" stroke-width="1"/>
<rect x="311.60" y="166.00" width="4" height="4" fill="#2a48a8"/>
<rect x="317.20" y="166.00" width="4" height="4" fill="#2a48a8"/>
<rect x="322.80" y="166.00" width="4" height="4" fill="#2a48a8"/>
<rect x="328.40" y="166.00" width="4" height="4" fill="#2a48a8"/>
<rect x="334.00" y="166.00" width="4" height="4" fill="#2a48a8"/>
<rect x="339.60" y="166.00" width="4" height="4" fill="#2a48a8"/>
<rect x="345.20" y="166.00" width="4" height="4" fill="#2a48a8"/>
<rect x="350.80" y="166.00" width="4" height="4" fill="#2a48a8"/>
<rect x="356.40" y="166.00" width="4" height="4" fill="#2a48a8"/>
<rect x="362.00" y="166.00" width="4" height="4" fill="#2a48a8"/>
<rect x="367.60" y="166.00" width="4" height="4" fill="#2a48a8"/>
<rect x="373.20" y="166.00" width="4" height="4" fill="#2a48a8"/>
<rect x="378.80" y="166.00" width="4" height="4" fill="#2a48a8"/>
<rect x="384.40" y="166.00" width="4" height="4" fill="#2a48a8"/>
<rect x="390.00" y="166.00" width="4" height="4" fill="#2a48a8"/>
<rect x="395.60" y="166.00" width="4" height="4" fill="#2a48a8"/>
<rect x="401.20" y="166.00" width="4" height="4" fill="#2a48a8"/>
<rect x="406.80" y="166.00" width="4" height="4" fill="#2a48a8"/>
<rect x="412.40" y="166.00" width="4" height="4" fill="#2a48a8"/>
<rect x="418.00" y="166.00" width="4" height="4" fill="#2a48a8"/>
<rect x="423.60" y="166.00" width="4" height="4" fill="#2a48a8"/>
<rect x="429.20" y="166.00" width="4" height="4" fill="#2a48a8"/>
<rect x="434.80" y="166.00" width="4" height="4" fill="#2a48a8"/>
<rect x="440.40" y="166.00" width="4" height="4" fill="#2a48a8"/>
<rect x="446.00" y="166.00" width="4" height="4" fill="#2a48a8"/>
<rect x="451.60" y="166.00" width="4" height="4" fill="#2a48a8"/>
<rect x="457.20" y="166.00" width="4" height="4" fill="#2a48a8"/>
<rect x="462.80" y="166.00" width="4" height="4" fill="#2a48a8"/>
<rect x="468.40" y="166.00" width="4" height="4" fill="#2a48a8"/>
<polyline points="308.00,168.00 313.60,167.98 319.20,167.96 324.80,167.94 330.40,167.92 336.00,167.90 341.60,167.88 347.20,167.86 352.80,167.84 358.40,167.82 364.00,167.80 369.60,165.50 375.20,162.50 380.80,157.10 386.40,149.90 392.00,139.50 397.60,127.50 403.20,117.50 408.80,108.70 414.40,102.00 420.00,96.90 425.60,90.80 431.20,88.90 436.80,87.40 442.40,86.20 448.00,85.40 453.60,84.60 459.20,83.80 464.80,83.10 470.40,82.30 476.00,82.00" fill="none" stroke="#f2ee5a" stroke-width="1.3"/>
<rect x="311.50" y="165.88" width="4.2" height="4.2" fill="#f2ee5a"/>
<rect x="317.10" y="165.86" width="4.2" height="4.2" fill="#f2ee5a"/>
<rect x="322.70" y="165.84" width="4.2" height="4.2" fill="#f2ee5a"/>
<rect x="328.30" y="165.82" width="4.2" height="4.2" fill="#f2ee5a"/>
<rect x="333.90" y="165.80" width="4.2" height="4.2" fill="#f2ee5a"/>
<rect x="339.50" y="165.78" width="4.2" height="4.2" fill="#f2ee5a"/>
<rect x="345.10" y="165.76" width="4.2" height="4.2" fill="#f2ee5a"/>
<rect x="350.70" y="165.74" width="4.2" height="4.2" fill="#f2ee5a"/>
<rect x="356.30" y="165.72" width="4.2" height="4.2" fill="#f2ee5a"/>
<rect x="361.90" y="165.70" width="4.2" height="4.2" fill="#f2ee5a"/>
<rect x="367.50" y="163.40" width="4.2" height="4.2" fill="#f2ee5a"/>
<rect x="373.10" y="160.40" width="4.2" height="4.2" fill="#f2ee5a"/>
<rect x="378.70" y="155.00" width="4.2" height="4.2" fill="#f2ee5a"/>
<rect x="384.30" y="147.80" width="4.2" height="4.2" fill="#f2ee5a"/>
<rect x="389.90" y="137.40" width="4.2" height="4.2" fill="#f2ee5a"/>
<rect x="395.50" y="125.40" width="4.2" height="4.2" fill="#f2ee5a"/>
<rect x="401.10" y="115.40" width="4.2" height="4.2" fill="#f2ee5a"/>
<rect x="406.70" y="106.60" width="4.2" height="4.2" fill="#f2ee5a"/>
<rect x="412.30" y="99.90" width="4.2" height="4.2" fill="#f2ee5a"/>
<rect x="417.90" y="94.80" width="4.2" height="4.2" fill="#f2ee5a"/>
<rect x="423.50" y="88.70" width="4.2" height="4.2" fill="#f2ee5a"/>
<rect x="429.10" y="86.80" width="4.2" height="4.2" fill="#f2ee5a"/>
<rect x="434.70" y="85.30" width="4.2" height="4.2" fill="#f2ee5a"/>
<rect x="440.30" y="84.10" width="4.2" height="4.2" fill="#f2ee5a"/>
<rect x="445.90" y="83.30" width="4.2" height="4.2" fill="#f2ee5a"/>
<rect x="451.50" y="82.50" width="4.2" height="4.2" fill="#f2ee5a"/>
<rect x="457.10" y="81.70" width="4.2" height="4.2" fill="#f2ee5a"/>
<rect x="462.70" y="81.00" width="4.2" height="4.2" fill="#f2ee5a"/>
<rect x="468.30" y="80.20" width="4.2" height="4.2" fill="#f2ee5a"/>
<polyline points="308.00,168.00 313.60,167.99 319.20,167.99 324.80,167.98 330.40,167.97 336.00,167.97 341.60,167.96 347.20,167.95 352.80,167.95 358.40,167.94 364.00,167.93 369.60,167.93 375.20,167.92 380.80,167.91 386.40,167.91 392.00,167.90 397.60,167.40 403.20,165.20 408.80,161.20 414.40,155.80 420.00,149.00 425.60,143.70 431.20,139.80 436.80,137.50 442.40,136.00 448.00,134.80 453.60,133.80 459.20,133.00 464.80,132.30 470.40,131.70 476.00,131.30" fill="none" stroke="#cc38bc" stroke-width="1.3"/>
<rect x="311.50" y="165.89" width="4.2" height="4.2" fill="#cc38bc"/>
<rect x="317.10" y="165.89" width="4.2" height="4.2" fill="#cc38bc"/>
<rect x="322.70" y="165.88" width="4.2" height="4.2" fill="#cc38bc"/>
<rect x="328.30" y="165.87" width="4.2" height="4.2" fill="#cc38bc"/>
<rect x="333.90" y="165.87" width="4.2" height="4.2" fill="#cc38bc"/>
<rect x="339.50" y="165.86" width="4.2" height="4.2" fill="#cc38bc"/>
<rect x="345.10" y="165.85" width="4.2" height="4.2" fill="#cc38bc"/>
<rect x="350.70" y="165.85" width="4.2" height="4.2" fill="#cc38bc"/>
<rect x="356.30" y="165.84" width="4.2" height="4.2" fill="#cc38bc"/>
<rect x="361.90" y="165.83" width="4.2" height="4.2" fill="#cc38bc"/>
<rect x="367.50" y="165.83" width="4.2" height="4.2" fill="#cc38bc"/>
<rect x="373.10" y="165.82" width="4.2" height="4.2" fill="#cc38bc"/>
<rect x="378.70" y="165.81" width="4.2" height="4.2" fill="#cc38bc"/>
<rect x="384.30" y="165.81" width="4.2" height="4.2" fill="#cc38bc"/>
<rect x="389.90" y="165.80" width="4.2" height="4.2" fill="#cc38bc"/>
<rect x="395.50" y="165.30" width="4.2" height="4.2" fill="#cc38bc"/>
<rect x="401.10" y="163.10" width="4.2" height="4.2" fill="#cc38bc"/>
<rect x="406.70" y="159.10" width="4.2" height="4.2" fill="#cc38bc"/>
<rect x="412.30" y="153.70" width="4.2" height="4.2" fill="#cc38bc"/>
<rect x="417.90" y="146.90" width="4.2" height="4.2" fill="#cc38bc"/>
<rect x="423.50" y="141.60" width="4.2" height="4.2" fill="#cc38bc"/>
<rect x="429.10" y="137.70" width="4.2" height="4.2" fill="#cc38bc"/>
<rect x="434.70" y="135.40" width="4.2" height="4.2" fill="#cc38bc"/>
<rect x="440.30" y="133.90" width="4.2" height="4.2" fill="#cc38bc"/>
<rect x="445.90" y="132.70" width="4.2" height="4.2" fill="#cc38bc"/>
<rect x="451.50" y="131.70" width="4.2" height="4.2" fill="#cc38bc"/>
<rect x="457.10" y="130.90" width="4.2" height="4.2" fill="#cc38bc"/>
<rect x="462.70" y="130.20" width="4.2" height="4.2" fill="#cc38bc"/>
<rect x="468.30" y="129.60" width="4.2" height="4.2" fill="#cc38bc"/>
<polyline points="308.00,168.00 313.60,167.99 319.20,167.97 324.80,167.96 330.40,167.94 336.00,167.93 341.60,167.91 347.20,167.90 352.80,167.89 358.40,167.87 364.00,167.86 369.60,167.84 375.20,167.83 380.80,167.81 386.40,167.80 392.00,166.80 397.60,164.40 403.20,159.80 408.80,151.70 414.40,143.70 420.00,135.60 425.60,127.50 431.20,122.10 436.80,118.30 442.40,116.00 448.00,114.50 453.60,113.50 459.20,112.70 464.80,112.00 470.40,111.50 476.00,111.20" fill="none" stroke="#3a62cc" stroke-width="1.3"/>
<rect x="311.50" y="165.89" width="4.2" height="4.2" fill="#3a62cc"/>
<rect x="317.10" y="165.87" width="4.2" height="4.2" fill="#3a62cc"/>
<rect x="322.70" y="165.86" width="4.2" height="4.2" fill="#3a62cc"/>
<rect x="328.30" y="165.84" width="4.2" height="4.2" fill="#3a62cc"/>
<rect x="333.90" y="165.83" width="4.2" height="4.2" fill="#3a62cc"/>
<rect x="339.50" y="165.81" width="4.2" height="4.2" fill="#3a62cc"/>
<rect x="345.10" y="165.80" width="4.2" height="4.2" fill="#3a62cc"/>
<rect x="350.70" y="165.79" width="4.2" height="4.2" fill="#3a62cc"/>
<rect x="356.30" y="165.77" width="4.2" height="4.2" fill="#3a62cc"/>
<rect x="361.90" y="165.76" width="4.2" height="4.2" fill="#3a62cc"/>
<rect x="367.50" y="165.74" width="4.2" height="4.2" fill="#3a62cc"/>
<rect x="373.10" y="165.73" width="4.2" height="4.2" fill="#3a62cc"/>
<rect x="378.70" y="165.71" width="4.2" height="4.2" fill="#3a62cc"/>
<rect x="384.30" y="165.70" width="4.2" height="4.2" fill="#3a62cc"/>
<rect x="389.90" y="164.70" width="4.2" height="4.2" fill="#3a62cc"/>
<rect x="395.50" y="162.30" width="4.2" height="4.2" fill="#3a62cc"/>
<rect x="401.10" y="157.70" width="4.2" height="4.2" fill="#3a62cc"/>
<rect x="406.70" y="149.60" width="4.2" height="4.2" fill="#3a62cc"/>
<rect x="412.30" y="141.60" width="4.2" height="4.2" fill="#3a62cc"/>
<rect x="417.90" y="133.50" width="4.2" height="4.2" fill="#3a62cc"/>
<rect x="423.50" y="125.40" width="4.2" height="4.2" fill="#3a62cc"/>
<rect x="429.10" y="120.00" width="4.2" height="4.2" fill="#3a62cc"/>
<rect x="434.70" y="116.20" width="4.2" height="4.2" fill="#3a62cc"/>
<rect x="440.30" y="113.90" width="4.2" height="4.2" fill="#3a62cc"/>
<rect x="445.90" y="112.40" width="4.2" height="4.2" fill="#3a62cc"/>
<rect x="451.50" y="111.40" width="4.2" height="4.2" fill="#3a62cc"/>
<rect x="457.10" y="110.60" width="4.2" height="4.2" fill="#3a62cc"/>
<rect x="462.70" y="109.90" width="4.2" height="4.2" fill="#3a62cc"/>
<rect x="468.30" y="109.40" width="4.2" height="4.2" fill="#3a62cc"/>
<polyline points="308.00,168.00 313.60,167.93 319.20,167.87 324.80,167.80 330.40,167.73 336.00,167.67 341.60,167.60 347.20,167.30 352.80,166.50 358.40,163.90 364.00,158.50 369.60,150.40 375.20,138.30 380.80,125.70 386.40,112.50 392.00,99.30 397.60,88.30 403.20,80.80 408.80,72.60 414.40,68.00 420.00,64.60 425.60,61.50 431.20,59.70 436.80,58.80 442.40,57.70 448.00,56.60 453.60,56.20 459.20,55.40 464.80,54.90 470.40,54.20 476.00,53.80" fill="none" stroke="#3cc83a" stroke-width="1.3"/>
<rect x="311.50" y="165.83" width="4.2" height="4.2" fill="#3cc83a"/>
<rect x="317.10" y="165.77" width="4.2" height="4.2" fill="#3cc83a"/>
<rect x="322.70" y="165.70" width="4.2" height="4.2" fill="#3cc83a"/>
<rect x="328.30" y="165.63" width="4.2" height="4.2" fill="#3cc83a"/>
<rect x="333.90" y="165.57" width="4.2" height="4.2" fill="#3cc83a"/>
<rect x="339.50" y="165.50" width="4.2" height="4.2" fill="#3cc83a"/>
<rect x="345.10" y="165.20" width="4.2" height="4.2" fill="#3cc83a"/>
<rect x="350.70" y="164.40" width="4.2" height="4.2" fill="#3cc83a"/>
<rect x="356.30" y="161.80" width="4.2" height="4.2" fill="#3cc83a"/>
<rect x="361.90" y="156.40" width="4.2" height="4.2" fill="#3cc83a"/>
<rect x="367.50" y="148.30" width="4.2" height="4.2" fill="#3cc83a"/>
<rect x="373.10" y="136.20" width="4.2" height="4.2" fill="#3cc83a"/>
<rect x="378.70" y="123.60" width="4.2" height="4.2" fill="#3cc83a"/>
<rect x="384.30" y="110.40" width="4.2" height="4.2" fill="#3cc83a"/>
<rect x="389.90" y="97.20" width="4.2" height="4.2" fill="#3cc83a"/>
<rect x="395.50" y="86.20" width="4.2" height="4.2" fill="#3cc83a"/>
<rect x="401.10" y="78.70" width="4.2" height="4.2" fill="#3cc83a"/>
<rect x="406.70" y="70.50" width="4.2" height="4.2" fill="#3cc83a"/>
<rect x="412.30" y="65.90" width="4.2" height="4.2" fill="#3cc83a"/>
<rect x="417.90" y="62.50" width="4.2" height="4.2" fill="#3cc83a"/>
<rect x="423.50" y="59.40" width="4.2" height="4.2" fill="#3cc83a"/>
<rect x="429.10" y="57.60" width="4.2" height="4.2" fill="#3cc83a"/>
<rect x="434.70" y="56.70" width="4.2" height="4.2" fill="#3cc83a"/>
<rect x="440.30" y="55.60" width="4.2" height="4.2" fill="#3cc83a"/>
<rect x="445.90" y="54.50" width="4.2" height="4.2" fill="#3cc83a"/>
<rect x="451.50" y="54.10" width="4.2" height="4.2" fill="#3cc83a"/>
<rect x="457.10" y="53.30" width="4.2" height="4.2" fill="#3cc83a"/>
<rect x="462.70" y="52.80" width="4.2" height="4.2" fill="#3cc83a"/>
<rect x="468.30" y="52.10" width="4.2" height="4.2" fill="#3cc83a"/>
<polyline points="308.00,168.00 313.60,167.90 319.20,167.80 324.80,167.40 330.40,166.30 336.00,163.50 341.60,158.50 347.20,151.00 352.80,141.50 358.40,129.50 364.00,117.60 369.60,106.00 375.20,95.70 380.80,85.60 386.40,78.60 392.00,72.40 397.60,66.10 403.20,62.80 408.80,58.80 414.40,57.20 420.00,55.10 425.60,53.50 431.20,52.00 436.80,51.30 442.40,50.90 448.00,50.50 453.60,50.00 459.20,49.50 464.80,48.90 470.40,48.50 476.00,48.20" fill="none" stroke="#d8284a" stroke-width="1.3"/>
<rect x="311.50" y="165.80" width="4.2" height="4.2" fill="#d8284a"/>
<rect x="317.10" y="165.70" width="4.2" height="4.2" fill="#d8284a"/>
<rect x="322.70" y="165.30" width="4.2" height="4.2" fill="#d8284a"/>
<rect x="328.30" y="164.20" width="4.2" height="4.2" fill="#d8284a"/>
<rect x="333.90" y="161.40" width="4.2" height="4.2" fill="#d8284a"/>
<rect x="339.50" y="156.40" width="4.2" height="4.2" fill="#d8284a"/>
<rect x="345.10" y="148.90" width="4.2" height="4.2" fill="#d8284a"/>
<rect x="350.70" y="139.40" width="4.2" height="4.2" fill="#d8284a"/>
<rect x="356.30" y="127.40" width="4.2" height="4.2" fill="#d8284a"/>
<rect x="361.90" y="115.50" width="4.2" height="4.2" fill="#d8284a"/>
<rect x="367.50" y="103.90" width="4.2" height="4.2" fill="#d8284a"/>
<rect x="373.10" y="93.60" width="4.2" height="4.2" fill="#d8284a"/>
<rect x="378.70" y="83.50" width="4.2" height="4.2" fill="#d8284a"/>
<rect x="384.30" y="76.50" width="4.2" height="4.2" fill="#d8284a"/>
<rect x="389.90" y="70.30" width="4.2" height="4.2" fill="#d8284a"/>
<rect x="395.50" y="64.00" width="4.2" height="4.2" fill="#d8284a"/>
<rect x="401.10" y="60.70" width="4.2" height="4.2" fill="#d8284a"/>
<rect x="406.70" y="56.70" width="4.2" height="4.2" fill="#d8284a"/>
<rect x="412.30" y="55.10" width="4.2" height="4.2" fill="#d8284a"/>
<rect x="417.90" y="53.00" width="4.2" height="4.2" fill="#d8284a"/>
<rect x="423.50" y="51.40" width="4.2" height="4.2" fill="#d8284a"/>
<rect x="429.10" y="49.90" width="4.2" height="4.2" fill="#d8284a"/>
<rect x="434.70" y="49.20" width="4.2" height="4.2" fill="#d8284a"/>
<rect x="440.30" y="48.80" width="4.2" height="4.2" fill="#d8284a"/>
<rect x="445.90" y="48.40" width="4.2" height="4.2" fill="#d8284a"/>
<rect x="451.50" y="47.90" width="4.2" height="4.2" fill="#d8284a"/>
<rect x="457.10" y="47.40" width="4.2" height="4.2" fill="#d8284a"/>
<rect x="462.70" y="46.80" width="4.2" height="4.2" fill="#d8284a"/>
<rect x="468.30" y="46.40" width="4.2" height="4.2" fill="#d8284a"/>
<line x1="308" y1="168" x2="476" y2="168" stroke="#141a40" stroke-width="1.7"/>
<line x1="392.00" y1="35" x2="392.00" y2="188" stroke="#000" stroke-width="2.1" stroke-dasharray="7.2 7.5" stroke-dashoffset="3.3"/>
<rect x="308" y="35" width="168" height="147.5" fill="none" stroke="#1e1e1e" stroke-width="1.2"/>
<line x1="308.00" y1="182.5" x2="308.00" y2="187.0" stroke="#1a1a1a" stroke-width="1"/>
<line x1="319.20" y1="182.5" x2="319.20" y2="187.0" stroke="#1a1a1a" stroke-width="1"/>
<line x1="330.40" y1="182.5" x2="330.40" y2="187.0" stroke="#1a1a1a" stroke-width="1"/>
<line x1="341.60" y1="182.5" x2="341.60" y2="187.0" stroke="#1a1a1a" stroke-width="1"/>
<line x1="352.80" y1="182.5" x2="352.80" y2="187.0" stroke="#1a1a1a" stroke-width="1"/>
<line x1="364.00" y1="182.5" x2="364.00" y2="187.0" stroke="#1a1a1a" stroke-width="1"/>
<line x1="375.20" y1="182.5" x2="375.20" y2="187.0" stroke="#1a1a1a" stroke-width="1"/>
<line x1="386.40" y1="182.5" x2="386.40" y2="187.0" stroke="#1a1a1a" stroke-width="1"/>
<line x1="397.60" y1="182.5" x2="397.60" y2="187.0" stroke="#1a1a1a" stroke-width="1"/>
<line x1="408.80" y1="182.5" x2="408.80" y2="187.0" stroke="#1a1a1a" stroke-width="1"/>
<line x1="420.00" y1="182.5" x2="420.00" y2="187.0" stroke="#1a1a1a" stroke-width="1"/>
<line x1="431.20" y1="182.5" x2="431.20" y2="187.0" stroke="#1a1a1a" stroke-width="1"/>
<line x1="442.40" y1="182.5" x2="442.40" y2="187.0" stroke="#1a1a1a" stroke-width="1"/>
<line x1="453.60" y1="182.5" x2="453.60" y2="187.0" stroke="#1a1a1a" stroke-width="1"/>
<line x1="464.80" y1="182.5" x2="464.80" y2="187.0" stroke="#1a1a1a" stroke-width="1"/>
<line x1="476.00" y1="182.5" x2="476.00" y2="187.0" stroke="#1a1a1a" stroke-width="1"/>
<line x1="305" y1="35.16" x2="308" y2="35.16" stroke="#111" stroke-width="1"/>
<text x="303.40" y="38.56" font-size="7.4" font-weight="bold" text-anchor="end" fill="#2a2a2a" stroke="#2a2a2a" stroke-width="0.3" letter-spacing="0.7">1.8</text>
<line x1="305" y1="64.68" x2="308" y2="64.68" stroke="#111" stroke-width="1"/>
<text x="303.40" y="68.08" font-size="7.4" font-weight="bold" text-anchor="end" fill="#2a2a2a" stroke="#2a2a2a" stroke-width="0.3" letter-spacing="0.7">1.4</text>
<line x1="305" y1="94.20" x2="308" y2="94.20" stroke="#111" stroke-width="1"/>
<text x="303.40" y="97.60" font-size="7.4" font-weight="bold" text-anchor="end" fill="#2a2a2a" stroke="#2a2a2a" stroke-width="0.3" letter-spacing="0.7">1.0</text>
<line x1="305" y1="123.72" x2="308" y2="123.72" stroke="#111" stroke-width="1"/>
<text x="303.40" y="127.12" font-size="7.4" font-weight="bold" text-anchor="end" fill="#2a2a2a" stroke="#2a2a2a" stroke-width="0.3" letter-spacing="0.7">0.6</text>
<line x1="305" y1="153.24" x2="308" y2="153.24" stroke="#111" stroke-width="1"/>
<text x="303.40" y="156.64" font-size="7.4" font-weight="bold" text-anchor="end" fill="#2a2a2a" stroke="#2a2a2a" stroke-width="0.3" letter-spacing="0.7">0.2</text>
<text x="328.83" y="196.80" font-size="7.8" font-weight="bold" text-anchor="middle" fill="#2a2a2a" stroke="#2a2a2a" stroke-width="0.15" letter-spacing="0.4">24</text>
<text x="362.43" y="196.80" font-size="7.8" font-weight="bold" text-anchor="middle" fill="#2a2a2a" stroke="#2a2a2a" stroke-width="0.15" letter-spacing="0.4">30</text>
<text x="418.88" y="196.80" font-size="7.8" font-weight="bold" text-anchor="middle" fill="#2a2a2a" stroke="#2a2a2a" stroke-width="0.15" letter-spacing="0.4">40</text>
<text x="473.76" y="196.30" font-size="7.8" font-weight="bold" text-anchor="middle" fill="#2a2a2a" stroke="#2a2a2a" stroke-width="0.15" letter-spacing="0.4">50</text>
<text x="309.80" y="46.50" font-size="11.5" font-weight="normal" text-anchor="start" fill="#111" stroke="#111" stroke-width="0.3" >patient&#160;&#160;6</text>
<text x="320.00" y="180.50" font-size="10" font-weight="normal" text-anchor="start" fill="#111" stroke="#111" stroke-width="0.3" >threshold</text>
<text x="302.20" y="29.50" font-size="24.5" font-weight="bold" fill="#000" stroke="#000" stroke-width="0.45">B</text>
<line x1="476.00" y1="48.30" x2="479.30" y2="48.30" stroke="#111" stroke-width="1.1"/>
<path d="M487.80,48.30 L478.80,51.80 L481.30,48.30 L478.80,44.80 z" fill="#111"/>
<text x="488.00" y="51.20" font-size="8.6" font-weight="bold" text-anchor="start" fill="#1a1a1a" stroke="#1a1a1a" stroke-width="0.1" letter-spacing="0.95">22500</text>
<line x1="476.00" y1="57.70" x2="479.30" y2="57.70" stroke="#111" stroke-width="1.1"/>
<path d="M487.80,57.70 L478.80,61.20 L481.30,57.70 L478.80,54.20 z" fill="#111"/>
<text x="488.00" y="60.60" font-size="8.6" font-weight="bold" text-anchor="start" fill="#1a1a1a" stroke="#1a1a1a" stroke-width="0.1" letter-spacing="0.95">2250</text>
<line x1="476.00" y1="84.10" x2="479.30" y2="84.10" stroke="#111" stroke-width="1.1"/>
<path d="M487.80,84.10 L478.80,87.60 L481.30,84.10 L478.80,80.60 z" fill="#111"/>
<text x="488.00" y="87.00" font-size="8.6" font-weight="bold" text-anchor="start" fill="#1a1a1a" stroke="#1a1a1a" stroke-width="0.1" letter-spacing="0.95">225</text>
<line x1="476.00" y1="111.50" x2="479.30" y2="111.50" stroke="#111" stroke-width="1.1"/>
<path d="M487.80,111.50 L478.80,115.00 L481.30,111.50 L478.80,108.00 z" fill="#111"/>
<text x="488.00" y="114.40" font-size="8.6" font-weight="bold" text-anchor="start" fill="#1a1a1a" stroke="#1a1a1a" stroke-width="0.1" letter-spacing="0.95">22</text>
<line x1="476.00" y1="131.50" x2="479.30" y2="131.50" stroke="#111" stroke-width="1.1"/>
<path d="M487.80,131.50 L478.80,135.00 L481.30,131.50 L478.80,128.00 z" fill="#111"/>
<text x="488.00" y="134.40" font-size="8.6" font-weight="bold" text-anchor="start" fill="#1a1a1a" stroke="#1a1a1a" stroke-width="0.1" letter-spacing="0.95">2.2</text>
<line x1="476.00" y1="168.00" x2="479.30" y2="168.00" stroke="#111" stroke-width="1.1"/>
<path d="M487.80,168.00 L478.80,171.50 L481.30,168.00 L478.80,164.50 z" fill="#111"/>
<text x="488.00" y="170.90" font-size="8.6" font-weight="bold" text-anchor="start" fill="#1a1a1a" stroke="#1a1a1a" stroke-width="0.1" letter-spacing="0.95">0.22</text>
<line x1="391.60" y1="195.00" x2="391.60" y2="202.00" stroke="#000" stroke-width="2.2"/>
<path d="M391.60,212.00 L387.85,201.50 L391.60,201.50 L395.35,201.50 z" fill="#000"/>
<line x1="476.00" y1="199.00" x2="476.00" y2="203.00" stroke="#000" stroke-width="2"/>
<path d="M476.00,212.00 L472.50,202.50 L476.00,202.50 L479.50,202.50 z" fill="#000"/>
<text x="378.70" y="225.30" font-size="10.5" font-weight="bold" fill="#343e8a" stroke="#343e8a" stroke-width="0" textLength="20.70" lengthAdjust="spacing">C35</text>
<text x="459.50" y="226.90" font-size="10.5" font-weight="bold" fill="#ac2244" stroke="#ac2244" stroke-width="0" textLength="21.40" lengthAdjust="spacing">C50</text>
<rect x="46.5" y="249" width="193.5" height="110.5" fill="#c6cacc" filter="url(#stip)"/>
<rect x="46.5" y="249" width="193.5" height="110.5" fill="none" stroke="#8a8e90" stroke-width="0.8"/>
<line x1="46.5" y1="249" x2="46.5" y2="359.5" stroke="#222" stroke-width="1"/>
<line x1="46.5" y1="359.5" x2="240" y2="359.5" stroke="#222" stroke-width="1"/>
<line x1="43.0" y1="249.50" x2="46.5" y2="249.50" stroke="#222" stroke-width="1"/>
<text x="35.30" y="252.30" font-size="7.5" font-weight="bold" text-anchor="end" fill="#333" stroke="#333" stroke-width="0.3" >40</text>
<line x1="43.0" y1="277.00" x2="46.5" y2="277.00" stroke="#222" stroke-width="1"/>
<text x="35.30" y="279.80" font-size="7.5" font-weight="bold" text-anchor="end" fill="#333" stroke="#333" stroke-width="0.3" >30</text>
<line x1="43.0" y1="304.50" x2="46.5" y2="304.50" stroke="#222" stroke-width="1"/>
<text x="35.30" y="307.30" font-size="7.5" font-weight="bold" text-anchor="end" fill="#333" stroke="#333" stroke-width="0.3" >20</text>
<line x1="43.0" y1="332.00" x2="46.5" y2="332.00" stroke="#222" stroke-width="1"/>
<text x="35.30" y="334.80" font-size="7.5" font-weight="bold" text-anchor="end" fill="#333" stroke="#333" stroke-width="0.3" >10</text>
<line x1="43.0" y1="359.50" x2="46.5" y2="359.50" stroke="#222" stroke-width="1"/>
<text x="35.30" y="362.30" font-size="7.5" font-weight="bold" text-anchor="end" fill="#333" stroke="#333" stroke-width="0.3" >0</text>
<line x1="43.5" y1="263.25" x2="46.5" y2="263.25" stroke="#222" stroke-width="0.9"/>
<line x1="43.5" y1="290.75" x2="46.5" y2="290.75" stroke="#222" stroke-width="0.9"/>
<line x1="43.5" y1="318.25" x2="46.5" y2="318.25" stroke="#222" stroke-width="0.9"/>
<line x1="43.5" y1="345.75" x2="46.5" y2="345.75" stroke="#222" stroke-width="0.9"/>
<line x1="46.50" y1="359.5" x2="46.50" y2="363.0" stroke="#222" stroke-width="1"/>
<text x="45.50" y="374.50" font-size="7" font-weight="bold" text-anchor="middle" fill="#333" stroke="#333" stroke-width="0.3" >1</text>
<line x1="85.10" y1="359.5" x2="85.10" y2="363.0" stroke="#222" stroke-width="1"/>
<text x="83.40" y="374.50" font-size="7" font-weight="bold" text-anchor="middle" fill="#333" stroke="#333" stroke-width="0.3" >10</text>
<line x1="123.70" y1="359.5" x2="123.70" y2="363.0" stroke="#222" stroke-width="1"/>
<text x="121.20" y="374.50" font-size="7" font-weight="bold" text-anchor="middle" fill="#333" stroke="#333" stroke-width="0.3" >100</text>
<line x1="162.30" y1="359.5" x2="162.30" y2="363.0" stroke="#222" stroke-width="1"/>
<text x="158.80" y="374.50" font-size="7" font-weight="bold" text-anchor="middle" fill="#333" stroke="#333" stroke-width="0.3" >1000</text>
<line x1="200.90" y1="359.5" x2="200.90" y2="363.0" stroke="#222" stroke-width="1"/>
<text x="196.60" y="374.50" font-size="7" font-weight="bold" text-anchor="middle" fill="#333" stroke="#333" stroke-width="0.3" >10000</text>
<line x1="239.50" y1="359.5" x2="239.50" y2="363.0" stroke="#222" stroke-width="1"/>
<line x1="51.5" y1="258" x2="217.5" y2="295.7" stroke="#000" stroke-width="2.6"/>
<path d="M52.14,255.25 L55.74,258.85 L52.14,262.45 L48.54,258.85 z" fill="#1c2a5c"/>
<path d="M90.74,263.50 L94.34,267.10 L90.74,270.70 L87.14,267.10 z" fill="#1c2a5c"/>
<path d="M129.58,272.02 L133.18,275.62 L129.58,279.23 L125.98,275.62 z" fill="#1c2a5c"/>
<path d="M168.24,283.30 L171.84,286.90 L168.24,290.50 L164.64,286.90 z" fill="#1c2a5c"/>
<path d="M217.08,292.65 L220.68,296.25 L217.08,299.85 L213.48,296.25 z" fill="#1c2a5c"/>
<text x="223.00" y="259.80" font-size="9.5" font-weight="normal" text-anchor="middle" fill="#222" stroke="#222" stroke-width="0.3" >H</text>
<text x="172.50" y="349.50" font-size="8.8" fill="#222" stroke="#222" stroke-width="0.15">R</text>
<text x="177.50" y="345.20" font-size="8.36" fill="#222" stroke="#222" stroke-width="0.15">2</text>
<text x="185.60" y="349.50" font-size="8.8" fill="#222" stroke="#222" stroke-width="0.15" textLength="33.70" lengthAdjust="spacingAndGlyphs">=&#160;0.997</text>
<text x="46.30" y="246.30" font-size="24.5" font-weight="bold" fill="#000" stroke="#000" stroke-width="0.45">C</text>
<text transform="translate(20.80,336.40) rotate(-90)" x="0" y="0" font-size="10" font-weight="normal" fill="#222" stroke="#222" stroke-width="0.3" textLength="40.20" lengthAdjust="spacingAndGlyphs">Threshold</text>
<text transform="translate(20.80,289.00) rotate(-90)" x="0" y="0" font-size="10" font-weight="normal" fill="#222" stroke="#222" stroke-width="0.3" textLength="23.80" lengthAdjust="spacingAndGlyphs">cycle</text>
<rect x="303" y="247.5" width="193" height="110.5" fill="#c6cacc" filter="url(#stip)"/>
<rect x="303" y="247.5" width="193" height="110.5" fill="none" stroke="#8a8e90" stroke-width="0.8"/>
<line x1="303" y1="247.5" x2="303" y2="358" stroke="#222" stroke-width="1"/>
<line x1="303" y1="358" x2="496" y2="358" stroke="#222" stroke-width="1"/>
<line x1="299.5" y1="247.60" x2="303" y2="247.60" stroke="#222" stroke-width="1"/>
<text x="290.50" y="250.40" font-size="7.5" font-weight="bold" text-anchor="end" fill="#333" stroke="#333" stroke-width="0.3" >40</text>
<line x1="299.5" y1="275.20" x2="303" y2="275.20" stroke="#222" stroke-width="1"/>
<text x="290.50" y="278.00" font-size="7.5" font-weight="bold" text-anchor="end" fill="#333" stroke="#333" stroke-width="0.3" >30</text>
<line x1="299.5" y1="302.80" x2="303" y2="302.80" stroke="#222" stroke-width="1"/>
<text x="290.50" y="305.60" font-size="7.5" font-weight="bold" text-anchor="end" fill="#333" stroke="#333" stroke-width="0.3" >20</text>
<line x1="299.5" y1="330.40" x2="303" y2="330.40" stroke="#222" stroke-width="1"/>
<text x="290.50" y="333.20" font-size="7.5" font-weight="bold" text-anchor="end" fill="#333" stroke="#333" stroke-width="0.3" >10</text>
<line x1="299.5" y1="358.00" x2="303" y2="358.00" stroke="#222" stroke-width="1"/>
<text x="290.50" y="360.80" font-size="7.5" font-weight="bold" text-anchor="end" fill="#333" stroke="#333" stroke-width="0.3" >0</text>
<line x1="300" y1="261.40" x2="303" y2="261.40" stroke="#222" stroke-width="0.9"/>
<line x1="300" y1="289.00" x2="303" y2="289.00" stroke="#222" stroke-width="0.9"/>
<line x1="300" y1="316.60" x2="303" y2="316.60" stroke="#222" stroke-width="0.9"/>
<line x1="300" y1="344.20" x2="303" y2="344.20" stroke="#222" stroke-width="0.9"/>
<line x1="303.00" y1="358" x2="303.00" y2="361.5" stroke="#222" stroke-width="1"/>
<text x="301.50" y="373.00" font-size="7" font-weight="bold" text-anchor="middle" fill="#333" stroke="#333" stroke-width="0.3" >1</text>
<line x1="341.50" y1="358" x2="341.50" y2="361.5" stroke="#222" stroke-width="1"/>
<text x="339.50" y="373.00" font-size="7" font-weight="bold" text-anchor="middle" fill="#333" stroke="#333" stroke-width="0.3" >10</text>
<line x1="380.00" y1="358" x2="380.00" y2="361.5" stroke="#222" stroke-width="1"/>
<text x="377.50" y="373.00" font-size="7" font-weight="bold" text-anchor="middle" fill="#333" stroke="#333" stroke-width="0.3" >100</text>
<line x1="418.50" y1="358" x2="418.50" y2="361.5" stroke="#222" stroke-width="1"/>
<text x="415.50" y="373.00" font-size="7" font-weight="bold" text-anchor="middle" fill="#333" stroke="#333" stroke-width="0.3" >1000</text>
<line x1="457.00" y1="358" x2="457.00" y2="361.5" stroke="#222" stroke-width="1"/>
<text x="454.00" y="373.00" font-size="7" font-weight="bold" text-anchor="middle" fill="#333" stroke="#333" stroke-width="0.3" >10000</text>
<line x1="495.50" y1="358" x2="495.50" y2="361.5" stroke="#222" stroke-width="1"/>
<line x1="316" y1="256.8" x2="470" y2="294.5" stroke="#000" stroke-width="2.6"/>
<path d="M316.18,253.38 L319.78,256.98 L316.18,260.58 L312.58,256.98 z" fill="#1c2a5c"/>
<path d="M354.68,262.22 L358.28,265.82 L354.68,269.42 L351.08,265.82 z" fill="#1c2a5c"/>
<path d="M393.56,270.50 L397.16,274.10 L393.56,277.70 L389.96,274.10 z" fill="#1c2a5c"/>
<path d="M432.06,280.16 L435.66,283.76 L432.06,287.36 L428.46,283.76 z" fill="#1c2a5c"/>
<path d="M470.56,291.20 L474.16,294.80 L470.56,298.40 L466.96,294.80 z" fill="#1c2a5c"/>
<text x="478.80" y="258.50" font-size="10" font-weight="normal" text-anchor="middle" fill="#222" stroke="#222" stroke-width="0.3" >6</text>
<text x="427.50" y="349.10" font-size="8.8" fill="#222" stroke="#222" stroke-width="0.15">R</text>
<text x="432.50" y="344.80" font-size="8.36" fill="#222" stroke="#222" stroke-width="0.15">2</text>
<text x="440.60" y="349.10" font-size="8.8" fill="#222" stroke="#222" stroke-width="0.15" textLength="34.40" lengthAdjust="spacingAndGlyphs">=&#160;0.997</text>
<text x="301.10" y="245.20" font-size="24.5" font-weight="bold" fill="#000" stroke="#000" stroke-width="0.45">D</text>
<text transform="translate(271.30,339.60) rotate(-90)" x="0" y="0" font-size="10" font-weight="normal" fill="#222" stroke="#222" stroke-width="0.3" textLength="42.70" lengthAdjust="spacingAndGlyphs">Threshold</text>
<text transform="translate(271.30,289.60) rotate(-90)" x="0" y="0" font-size="10" font-weight="normal" fill="#222" stroke="#222" stroke-width="0.3" textLength="23.50" lengthAdjust="spacingAndGlyphs">cycle</text>
<rect x="47.5" y="400" width="192.0" height="110" fill="#c6cacc" filter="url(#stip)"/>
<rect x="47.5" y="400" width="192.0" height="110" fill="none" stroke="#8a8e90" stroke-width="0.8"/>
<line x1="47.5" y1="400" x2="47.5" y2="510" stroke="#222" stroke-width="1"/>
<line x1="47.5" y1="510" x2="239.5" y2="510" stroke="#222" stroke-width="1"/>
<line x1="44.0" y1="399.60" x2="47.5" y2="399.60" stroke="#222" stroke-width="1"/>
<text x="35.80" y="402.40" font-size="7.5" font-weight="bold" text-anchor="end" fill="#333" stroke="#333" stroke-width="0.3" >1.6</text>
<line x1="44.0" y1="427.20" x2="47.5" y2="427.20" stroke="#222" stroke-width="1"/>
<text x="35.80" y="430.00" font-size="7.5" font-weight="bold" text-anchor="end" fill="#333" stroke="#333" stroke-width="0.3" >1.2</text>
<line x1="44.0" y1="454.80" x2="47.5" y2="454.80" stroke="#222" stroke-width="1"/>
<text x="35.80" y="457.60" font-size="7.5" font-weight="bold" text-anchor="end" fill="#333" stroke="#333" stroke-width="0.3" >0.8</text>
<line x1="44.0" y1="482.40" x2="47.5" y2="482.40" stroke="#222" stroke-width="1"/>
<text x="35.80" y="485.20" font-size="7.5" font-weight="bold" text-anchor="end" fill="#333" stroke="#333" stroke-width="0.3" >0.4</text>
<line x1="44.0" y1="510.00" x2="47.5" y2="510.00" stroke="#222" stroke-width="1"/>
<text x="35.80" y="512.80" font-size="7.5" font-weight="bold" text-anchor="end" fill="#333" stroke="#333" stroke-width="0.3" >0</text>
<line x1="44.5" y1="413.40" x2="47.5" y2="413.40" stroke="#222" stroke-width="0.9"/>
<line x1="44.5" y1="441.00" x2="47.5" y2="441.00" stroke="#222" stroke-width="0.9"/>
<line x1="44.5" y1="468.60" x2="47.5" y2="468.60" stroke="#222" stroke-width="0.9"/>
<line x1="44.5" y1="496.20" x2="47.5" y2="496.20" stroke="#222" stroke-width="0.9"/>
<line x1="47.50" y1="510" x2="47.50" y2="513.5" stroke="#222" stroke-width="1"/>
<text x="46.50" y="524.50" font-size="7" font-weight="bold" text-anchor="middle" fill="#333" stroke="#333" stroke-width="0.3" >1</text>
<line x1="86.10" y1="510" x2="86.10" y2="513.5" stroke="#222" stroke-width="1"/>
<text x="84.40" y="524.50" font-size="7" font-weight="bold" text-anchor="middle" fill="#333" stroke="#333" stroke-width="0.3" >10</text>
<line x1="124.70" y1="510" x2="124.70" y2="513.5" stroke="#222" stroke-width="1"/>
<text x="122.20" y="524.50" font-size="7" font-weight="bold" text-anchor="middle" fill="#333" stroke="#333" stroke-width="0.3" >100</text>
<line x1="163.30" y1="510" x2="163.30" y2="513.5" stroke="#222" stroke-width="1"/>
<text x="159.80" y="524.50" font-size="7" font-weight="bold" text-anchor="middle" fill="#333" stroke="#333" stroke-width="0.3" >1000</text>
<line x1="201.90" y1="510" x2="201.90" y2="513.5" stroke="#222" stroke-width="1"/>
<text x="197.60" y="524.50" font-size="7" font-weight="bold" text-anchor="middle" fill="#333" stroke="#333" stroke-width="0.3" >10000</text>
<line x1="240.50" y1="510" x2="240.50" y2="513.5" stroke="#222" stroke-width="1"/>
<line x1="53.3" y1="487.5" x2="216.3" y2="412.5" stroke="#e0304a" stroke-width="2.4"/>
<line x1="53.8" y1="511.2" x2="216.3" y2="459.5" stroke="#1a2a9a" stroke-width="2.4"/>
<rect x="50.54" y="491.15" width="5.20" height="5.20" fill="#e0304a"/>
<rect x="89.14" y="466.15" width="5.20" height="5.20" fill="#e0304a"/>
<rect x="127.98" y="442.90" width="5.20" height="5.20" fill="#e0304a"/>
<rect x="166.64" y="428.65" width="5.20" height="5.20" fill="#e0304a"/>
<rect x="215.48" y="416.90" width="5.20" height="5.20" fill="#e0304a"/>
<path d="M91.74,497.65 L95.34,501.25 L91.74,504.85 L88.14,501.25 z" fill="#1c2a5c"/>
<path d="M130.58,483.40 L134.18,487.00 L130.58,490.60 L126.98,487.00 z" fill="#1c2a5c"/>
<path d="M169.24,465.90 L172.84,469.50 L169.24,473.10 L165.64,469.50 z" fill="#1c2a5c"/>
<path d="M218.08,457.65 L221.68,461.25 L218.08,464.85 L214.48,461.25 z" fill="#1c2a5c"/>
<rect x="51.5" y="401.5" width="23.5" height="11" rx="4" fill="#f0e6ea" opacity="0.75"/>
<text x="52.90" y="410.50" font-size="10" font-weight="bold" fill="#a01e40" stroke="#a01e40" stroke-width="0" textLength="20.20" lengthAdjust="spacing">C50</text>
<text x="96.40" y="410.50" font-size="8.8" fill="#9a3a4a" stroke="#9a3a4a" stroke-width="0.15">R</text>
<text x="101.40" y="406.20" font-size="8.36" fill="#9a3a4a" stroke="#9a3a4a" stroke-width="0.15">2</text>
<text x="109.50" y="410.50" font-size="8.8" fill="#9a3a4a" stroke="#9a3a4a" stroke-width="0.15" textLength="35.20" lengthAdjust="spacingAndGlyphs">=&#160;0.953</text>
<text x="223.70" y="411.30" font-size="10" font-weight="normal" text-anchor="middle" fill="#222" stroke="#222" stroke-width="0.5" >H</text>
<text x="130.70" y="501.50" font-size="10" font-weight="bold" fill="#1c2a6a" stroke="#1c2a6a" stroke-width="0" textLength="19.80" lengthAdjust="spacing">C35</text>
<text x="171.50" y="501.50" font-size="8.8" fill="#2a2a4a" stroke="#2a2a4a" stroke-width="0.15">R</text>
<text x="176.50" y="497.20" font-size="8.36" fill="#2a2a4a" stroke="#2a2a4a" stroke-width="0.15">2</text>
<text x="184.60" y="501.50" font-size="8.8" fill="#2a2a4a" stroke="#2a2a4a" stroke-width="0.15" textLength="36.10" lengthAdjust="spacingAndGlyphs">=&#160;0.970</text>
<text x="47.20" y="397.70" font-size="24.5" font-weight="bold" fill="#000" stroke="#000" stroke-width="0.45">E</text>
<text transform="translate(12.00,499.90) rotate(-90)" x="0" y="0" font-size="9.5" font-weight="normal" fill="#222" stroke="#222" stroke-width="0.3" textLength="18.30" lengthAdjust="spacingAndGlyphs">&#916;Rn</text>
<rect x="302" y="398" width="192" height="110.75" fill="#c6cacc" filter="url(#stip)"/>
<rect x="302" y="398" width="192" height="110.75" fill="none" stroke="#8a8e90" stroke-width="0.8"/>
<line x1="302" y1="398" x2="302" y2="508.75" stroke="#222" stroke-width="1"/>
<line x1="302" y1="508.75" x2="494" y2="508.75" stroke="#222" stroke-width="1"/>
<line x1="298.5" y1="410.35" x2="302" y2="410.35" stroke="#222" stroke-width="1"/>
<text x="289.50" y="413.15" font-size="7.5" font-weight="bold" text-anchor="end" fill="#333" stroke="#333" stroke-width="0.3" >1.6</text>
<line x1="298.5" y1="434.95" x2="302" y2="434.95" stroke="#222" stroke-width="1"/>
<text x="289.50" y="437.75" font-size="7.5" font-weight="bold" text-anchor="end" fill="#333" stroke="#333" stroke-width="0.3" >1.2</text>
<line x1="298.5" y1="459.55" x2="302" y2="459.55" stroke="#222" stroke-width="1"/>
<text x="289.50" y="462.35" font-size="7.5" font-weight="bold" text-anchor="end" fill="#333" stroke="#333" stroke-width="0.3" >0.8</text>
<line x1="298.5" y1="484.15" x2="302" y2="484.15" stroke="#222" stroke-width="1"/>
<text x="289.50" y="486.95" font-size="7.5" font-weight="bold" text-anchor="end" fill="#333" stroke="#333" stroke-width="0.3" >0.4</text>
<line x1="298.5" y1="508.75" x2="302" y2="508.75" stroke="#222" stroke-width="1"/>
<text x="289.50" y="511.55" font-size="7.5" font-weight="bold" text-anchor="end" fill="#333" stroke="#333" stroke-width="0.3" >0</text>
<line x1="299" y1="422.65" x2="302" y2="422.65" stroke="#222" stroke-width="0.9"/>
<line x1="299" y1="447.25" x2="302" y2="447.25" stroke="#222" stroke-width="0.9"/>
<line x1="299" y1="471.85" x2="302" y2="471.85" stroke="#222" stroke-width="0.9"/>
<line x1="299" y1="496.45" x2="302" y2="496.45" stroke="#222" stroke-width="0.9"/>
<line x1="302.00" y1="508.75" x2="302.00" y2="512.25" stroke="#222" stroke-width="1"/>
<text x="300.10" y="523.50" font-size="7" font-weight="bold" text-anchor="middle" fill="#333" stroke="#333" stroke-width="0.3" >1</text>
<line x1="340.30" y1="508.75" x2="340.30" y2="512.25" stroke="#222" stroke-width="1"/>
<text x="337.60" y="523.50" font-size="7" font-weight="bold" text-anchor="middle" fill="#333" stroke="#333" stroke-width="0.3" >10</text>
<line x1="378.60" y1="508.75" x2="378.60" y2="512.25" stroke="#222" stroke-width="1"/>
<text x="374.70" y="523.50" font-size="7" font-weight="bold" text-anchor="middle" fill="#333" stroke="#333" stroke-width="0.3" >100</text>
<line x1="416.90" y1="508.75" x2="416.90" y2="512.25" stroke="#222" stroke-width="1"/>
<text x="411.90" y="523.50" font-size="7" font-weight="bold" text-anchor="middle" fill="#333" stroke="#333" stroke-width="0.3" >1000</text>
<line x1="455.20" y1="508.75" x2="455.20" y2="512.25" stroke="#222" stroke-width="1"/>
<text x="452.50" y="523.50" font-size="7" font-weight="bold" text-anchor="middle" fill="#333" stroke="#333" stroke-width="0.3" >10000</text>
<line x1="493.50" y1="508.75" x2="493.50" y2="512.25" stroke="#222" stroke-width="1"/>
<line x1="313" y1="477.5" x2="467.5" y2="403" stroke="#e0304a" stroke-width="2.4"/>
<line x1="353" y1="506.25" x2="467.5" y2="430" stroke="#1a2a9a" stroke-width="2.4"/>
<rect x="312.51" y="474.90" width="5.20" height="5.20" fill="#e0304a"/>
<rect x="350.81" y="459.90" width="5.20" height="5.20" fill="#e0304a"/>
<rect x="389.49" y="435.40" width="5.20" height="5.20" fill="#e0304a"/>
<rect x="427.79" y="410.65" width="5.20" height="5.20" fill="#e0304a"/>
<rect x="466.09" y="406.65" width="5.20" height="5.20" fill="#e0304a"/>
<path d="M353.41,502.65 L357.01,506.25 L353.41,509.85 L349.81,506.25 z" fill="#1c2a5c"/>
<path d="M392.09,481.40 L395.69,485.00 L392.09,488.60 L388.49,485.00 z" fill="#1c2a5c"/>
<path d="M430.39,447.65 L433.99,451.25 L430.39,454.85 L426.79,451.25 z" fill="#1c2a5c"/>
<path d="M468.69,426.40 L472.29,430.00 L468.69,433.60 L465.09,430.00 z" fill="#1c2a5c"/>
<rect x="304.8" y="400.2" width="23.5" height="11" rx="4" fill="#f0e6ea" opacity="0.75"/>
<text x="306.20" y="409.20" font-size="10" font-weight="bold" fill="#a01e40" stroke="#a01e40" stroke-width="0" textLength="20.30" lengthAdjust="spacing">C50</text>
<text x="343.20" y="409.20" font-size="8.8" fill="#9a3a4a" stroke="#9a3a4a" stroke-width="0.15">R</text>
<text x="348.20" y="404.90" font-size="8.36" fill="#9a3a4a" stroke="#9a3a4a" stroke-width="0.15">2</text>
<text x="356.30" y="409.20" font-size="8.8" fill="#9a3a4a" stroke="#9a3a4a" stroke-width="0.15" textLength="36.10" lengthAdjust="spacingAndGlyphs">=&#160;0.966</text>
<text x="475.90" y="408.80" font-size="9.5" font-weight="normal" text-anchor="middle" fill="#222" stroke="#222" stroke-width="0.45" >6</text>
<text x="380.80" y="501.10" font-size="10" font-weight="bold" fill="#1c2a6a" stroke="#1c2a6a" stroke-width="0" textLength="21.70" lengthAdjust="spacing">C35</text>
<text x="426.20" y="501.00" font-size="8.8" fill="#2a2a4a" stroke="#2a2a4a" stroke-width="0.15">R</text>
<text x="431.20" y="496.70" font-size="8.36" fill="#2a2a4a" stroke="#2a2a4a" stroke-width="0.15">2</text>
<text x="439.30" y="501.00" font-size="8.8" fill="#2a2a4a" stroke="#2a2a4a" stroke-width="0.15" textLength="35.10" lengthAdjust="spacingAndGlyphs">=&#160;0.993</text>
<text x="301.10" y="396.20" font-size="24.5" font-weight="bold" fill="#000" stroke="#000" stroke-width="0.45">F</text>
<text transform="translate(263.90,499.10) rotate(-90)" x="0" y="0" font-size="9.5" font-weight="normal" fill="#222" stroke="#222" stroke-width="0.3" textLength="18.60" lengthAdjust="spacingAndGlyphs">&#916;Rn</text>
<rect x="46.25" y="561.25" width="194.25" height="111.75" fill="#c6cacc" filter="url(#stip)"/>
<rect x="46.25" y="561.25" width="194.25" height="111.75" fill="none" stroke="#8a8e90" stroke-width="0.8"/>
<line x1="46.25" y1="561.25" x2="46.25" y2="673" stroke="#222" stroke-width="1"/>
<line x1="46.25" y1="673" x2="240.5" y2="673" stroke="#222" stroke-width="1"/>
<line x1="42.75" y1="562.00" x2="46.25" y2="562.00" stroke="#222" stroke-width="1"/>
<text x="35.30" y="564.80" font-size="7.5" font-weight="bold" text-anchor="end" fill="#333" stroke="#333" stroke-width="0.3" >6</text>
<line x1="42.75" y1="599.00" x2="46.25" y2="599.00" stroke="#222" stroke-width="1"/>
<text x="35.30" y="601.80" font-size="7.5" font-weight="bold" text-anchor="end" fill="#333" stroke="#333" stroke-width="0.3" >4</text>
<line x1="42.75" y1="636.00" x2="46.25" y2="636.00" stroke="#222" stroke-width="1"/>
<text x="35.30" y="638.80" font-size="7.5" font-weight="bold" text-anchor="end" fill="#333" stroke="#333" stroke-width="0.3" >2</text>
<line x1="42.75" y1="673.00" x2="46.25" y2="673.00" stroke="#222" stroke-width="1"/>
<text x="35.30" y="675.80" font-size="7.5" font-weight="bold" text-anchor="end" fill="#333" stroke="#333" stroke-width="0.3" >0</text>
<line x1="43.25" y1="580.50" x2="46.25" y2="580.50" stroke="#222" stroke-width="0.9"/>
<line x1="43.25" y1="617.50" x2="46.25" y2="617.50" stroke="#222" stroke-width="0.9"/>
<line x1="43.25" y1="654.50" x2="46.25" y2="654.50" stroke="#222" stroke-width="0.9"/>
<line x1="46.25" y1="673" x2="46.25" y2="676.5" stroke="#222" stroke-width="1"/>
<text x="45.05" y="687.50" font-size="7" font-weight="bold" text-anchor="middle" fill="#333" stroke="#333" stroke-width="0.3" >1</text>
<line x1="123.75" y1="673" x2="123.75" y2="676.5" stroke="#222" stroke-width="1"/>
<text x="121.75" y="687.50" font-size="7" font-weight="bold" text-anchor="middle" fill="#333" stroke="#333" stroke-width="0.3" >100</text>
<line x1="201.25" y1="673" x2="201.25" y2="676.5" stroke="#222" stroke-width="1"/>
<line x1="91" y1="656" x2="218.75" y2="580" stroke="#c89088" stroke-width="2"/>
<line x1="91" y1="656" x2="218.75" y2="580" stroke="#3a1612" stroke-width="2.5" stroke-dasharray="8 4"/>
<path d="M90.66,660.5 V671.5 M86.76,660.5 H94.56 M86.76,671.5 H94.56" stroke="#1a1a22" stroke-width="1.2" fill="none"/>
<path d="M90.66,661.60 L94.06,665.00 L90.66,668.40 L87.26,665.00 z" fill="#1c2a5c"/>
<path d="M129.65,617.5 V634.5 M125.75,617.5 H133.55 M125.75,634.5 H133.55" stroke="#1a1a22" stroke-width="1.2" fill="none"/>
<path d="M129.65,622.10 L133.05,625.50 L129.65,628.90 L126.25,625.50 z" fill="#1c2a5c"/>
<path d="M168.46,591.25 V613 M164.56,591.25 H172.36 M164.56,613 H172.36" stroke="#1a1a22" stroke-width="1.2" fill="none"/>
<path d="M168.46,598.60 L171.86,602.00 L168.46,605.40 L165.06,602.00 z" fill="#1c2a5c"/>
<path d="M217.49,577.5 V604.5 M213.59,577.5 H221.39 M213.59,604.5 H221.39" stroke="#1a1a22" stroke-width="1.2" fill="none"/>
<path d="M217.49,586.60 L220.89,590.00 L217.49,593.40 L214.09,590.00 z" fill="#1c2a5c"/>
<text x="224.60" y="571.30" font-size="10" font-weight="normal" text-anchor="middle" fill="#222" stroke="#222" stroke-width="0.3" >H</text>
<text x="174.80" y="664.50" font-size="8.8" fill="#222" stroke="#222" stroke-width="0.15">R</text>
<text x="179.80" y="660.20" font-size="8.36" fill="#222" stroke="#222" stroke-width="0.15">2</text>
<text x="187.90" y="664.50" font-size="8.8" fill="#222" stroke="#222" stroke-width="0.15" textLength="34.40" lengthAdjust="spacingAndGlyphs">=&#160;0.909</text>
<text x="46.70" y="558.20" font-size="24.5" font-weight="bold" fill="#000" stroke="#000" stroke-width="0.45">G</text>
<text transform="translate(11.60,707.70) rotate(-90)" x="0" y="0" font-size="9.6" font-weight="normal" fill="#222" stroke="#222" stroke-width="0.2" textLength="58.10" lengthAdjust="spacingAndGlyphs">Densitometric</text>
<text transform="translate(11.60,645.60) rotate(-90)" x="0" y="0" font-size="9.6" font-weight="normal" fill="#222" stroke="#222" stroke-width="0.2" textLength="23.80" lengthAdjust="spacing">units</text>
<text x="33.00" y="707.50" font-size="10" font-weight="normal" fill="#222" stroke="#222" stroke-width="0.3" textLength="32.80" lengthAdjust="spacingAndGlyphs">Starting</text>
<text x="72.50" y="707.50" font-size="10" font-weight="normal" fill="#222" stroke="#222" stroke-width="0.3" textLength="34.60" lengthAdjust="spacingAndGlyphs">quantity</text>
<text x="112.50" y="707.50" font-size="10" font-weight="normal" fill="#222" stroke="#222" stroke-width="0.3" textLength="8.40" lengthAdjust="spacingAndGlyphs">(#</text>
<text x="128.50" y="707.50" font-size="10" font-weight="normal" fill="#222" stroke="#222" stroke-width="0.3" textLength="24.80" lengthAdjust="spacingAndGlyphs">tumor</text>
<text x="159.20" y="707.50" font-size="10" font-weight="normal" fill="#222" stroke="#222" stroke-width="0.3" textLength="19.20" lengthAdjust="spacingAndGlyphs">cells</text>
<text x="183.50" y="707.50" font-size="10" font-weight="normal" fill="#222" stroke="#222" stroke-width="0.3" textLength="4.00" lengthAdjust="spacingAndGlyphs">/</text>
<text x="193.70" y="707.50" font-size="10" font-weight="normal" fill="#222" stroke="#222" stroke-width="0.3" textLength="29.60" lengthAdjust="spacingAndGlyphs">80.000</text>
<text x="230.30" y="707.50" font-size="10" font-weight="normal" fill="#222" stroke="#222" stroke-width="0.3" textLength="22.20" lengthAdjust="spacingAndGlyphs">cells)</text>
<rect x="301.25" y="557.5" width="193.75" height="111.25" fill="#c6cacc" filter="url(#stip)"/>
<rect x="301.25" y="557.5" width="193.75" height="111.25" fill="none" stroke="#8a8e90" stroke-width="0.8"/>
<line x1="301.25" y1="557.5" x2="301.25" y2="668.75" stroke="#222" stroke-width="1"/>
<line x1="301.25" y1="668.75" x2="495" y2="668.75" stroke="#222" stroke-width="1"/>
<line x1="297.75" y1="557.15" x2="301.25" y2="557.15" stroke="#222" stroke-width="1"/>
<text x="290.80" y="559.95" font-size="7.5" font-weight="bold" text-anchor="end" fill="#333" stroke="#333" stroke-width="0.3" >6</text>
<line x1="297.75" y1="594.35" x2="301.25" y2="594.35" stroke="#222" stroke-width="1"/>
<text x="290.80" y="597.15" font-size="7.5" font-weight="bold" text-anchor="end" fill="#333" stroke="#333" stroke-width="0.3" >4</text>
<line x1="297.75" y1="631.55" x2="301.25" y2="631.55" stroke="#222" stroke-width="1"/>
<text x="290.80" y="634.35" font-size="7.5" font-weight="bold" text-anchor="end" fill="#333" stroke="#333" stroke-width="0.3" >2</text>
<line x1="297.75" y1="668.75" x2="301.25" y2="668.75" stroke="#222" stroke-width="1"/>
<text x="290.80" y="671.55" font-size="7.5" font-weight="bold" text-anchor="end" fill="#333" stroke="#333" stroke-width="0.3" >0</text>
<line x1="298.25" y1="575.75" x2="301.25" y2="575.75" stroke="#222" stroke-width="0.9"/>
<line x1="298.25" y1="612.95" x2="301.25" y2="612.95" stroke="#222" stroke-width="0.9"/>
<line x1="298.25" y1="650.15" x2="301.25" y2="650.15" stroke="#222" stroke-width="0.9"/>
<line x1="302.75" y1="668.75" x2="302.75" y2="672.25" stroke="#222" stroke-width="1"/>
<text x="299.35" y="685.00" font-size="7" font-weight="bold" text-anchor="middle" fill="#333" stroke="#333" stroke-width="0.3" >1</text>
<line x1="379.55" y1="668.75" x2="379.55" y2="672.25" stroke="#222" stroke-width="1"/>
<text x="376.95" y="685.00" font-size="7" font-weight="bold" text-anchor="middle" fill="#333" stroke="#333" stroke-width="0.3" >100</text>
<line x1="456.35" y1="668.75" x2="456.35" y2="672.25" stroke="#222" stroke-width="1"/>
<text x="452.35" y="685.00" font-size="7" font-weight="bold" text-anchor="middle" fill="#333" stroke="#333" stroke-width="0.3" >10000</text>
<line x1="353.75" y1="638" x2="471.25" y2="561.25" stroke="#c89088" stroke-width="2"/>
<line x1="353.75" y1="638" x2="471.25" y2="561.25" stroke="#3a1612" stroke-width="2.5" stroke-dasharray="8 4"/>
<path d="M354.30,638.75 V652.5 M350.40,638.75 H358.20 M350.40,652.5 H358.20" stroke="#1a1a22" stroke-width="1.2" fill="none"/>
<path d="M354.30,641.60 L357.70,645.00 L354.30,648.40 L350.90,645.00 z" fill="#1c2a5c"/>
<path d="M393.07,599.5 V620.5 M389.17,599.5 H396.97 M389.17,620.5 H396.97" stroke="#1a1a22" stroke-width="1.2" fill="none"/>
<path d="M393.07,607.10 L396.47,610.50 L393.07,613.90 L389.67,610.50 z" fill="#1c2a5c"/>
<path d="M431.47,562.5 V591.25 M427.57,562.5 H435.37 M427.57,591.25 H435.37" stroke="#1a1a22" stroke-width="1.2" fill="none"/>
<path d="M431.47,572.85 L434.87,576.25 L431.47,579.65 L428.07,576.25 z" fill="#1c2a5c"/>
<path d="M469.87,558.75 V583.25 M465.97,558.75 H473.77 M465.97,583.25 H473.77" stroke="#1a1a22" stroke-width="1.2" fill="none"/>
<path d="M469.87,566.60 L473.27,570.00 L469.87,573.40 L466.47,570.00 z" fill="#1c2a5c"/>
<text x="477.50" y="566.30" font-size="9.5" font-weight="normal" text-anchor="middle" fill="#222" stroke="#222" stroke-width="0.3" >6</text>
<text x="426.80" y="660.10" font-size="8.8" fill="#222" stroke="#222" stroke-width="0.15">R</text>
<text x="431.80" y="655.80" font-size="8.36" fill="#222" stroke="#222" stroke-width="0.15">2</text>
<text x="439.90" y="660.10" font-size="8.8" fill="#222" stroke="#222" stroke-width="0.15" textLength="35.10" lengthAdjust="spacingAndGlyphs">=&#160;0.933</text>
<text x="301.30" y="555.00" font-size="24.5" font-weight="bold" fill="#000" stroke="#000" stroke-width="0.45">H</text>
<text transform="translate(259.00,658.50) rotate(-90)" x="0" y="0" font-size="9.6" font-weight="normal" fill="#222" stroke="#222" stroke-width="0.2" textLength="27.30" lengthAdjust="spacingAndGlyphs">Densit</text>
<text transform="translate(259.00,630.70) rotate(-90)" x="0" y="0" font-size="9.6" font-weight="normal" fill="#222" stroke="#222" stroke-width="0.2" textLength="33.30" lengthAdjust="spacingAndGlyphs">ometric</text>
<text transform="translate(271.40,646.10) rotate(-90)" x="0" y="0" font-size="9.6" font-weight="normal" fill="#222" stroke="#222" stroke-width="0.2" textLength="16.20" lengthAdjust="spacingAndGlyphs">unit</text>
<text transform="translate(271.40,628.70) rotate(-90)" x="0" y="0" font-size="9.6" font-weight="normal" fill="#222" stroke="#222" stroke-width="0.2" textLength="5.10" lengthAdjust="spacingAndGlyphs">s</text>
</g></svg>
</body></html>
